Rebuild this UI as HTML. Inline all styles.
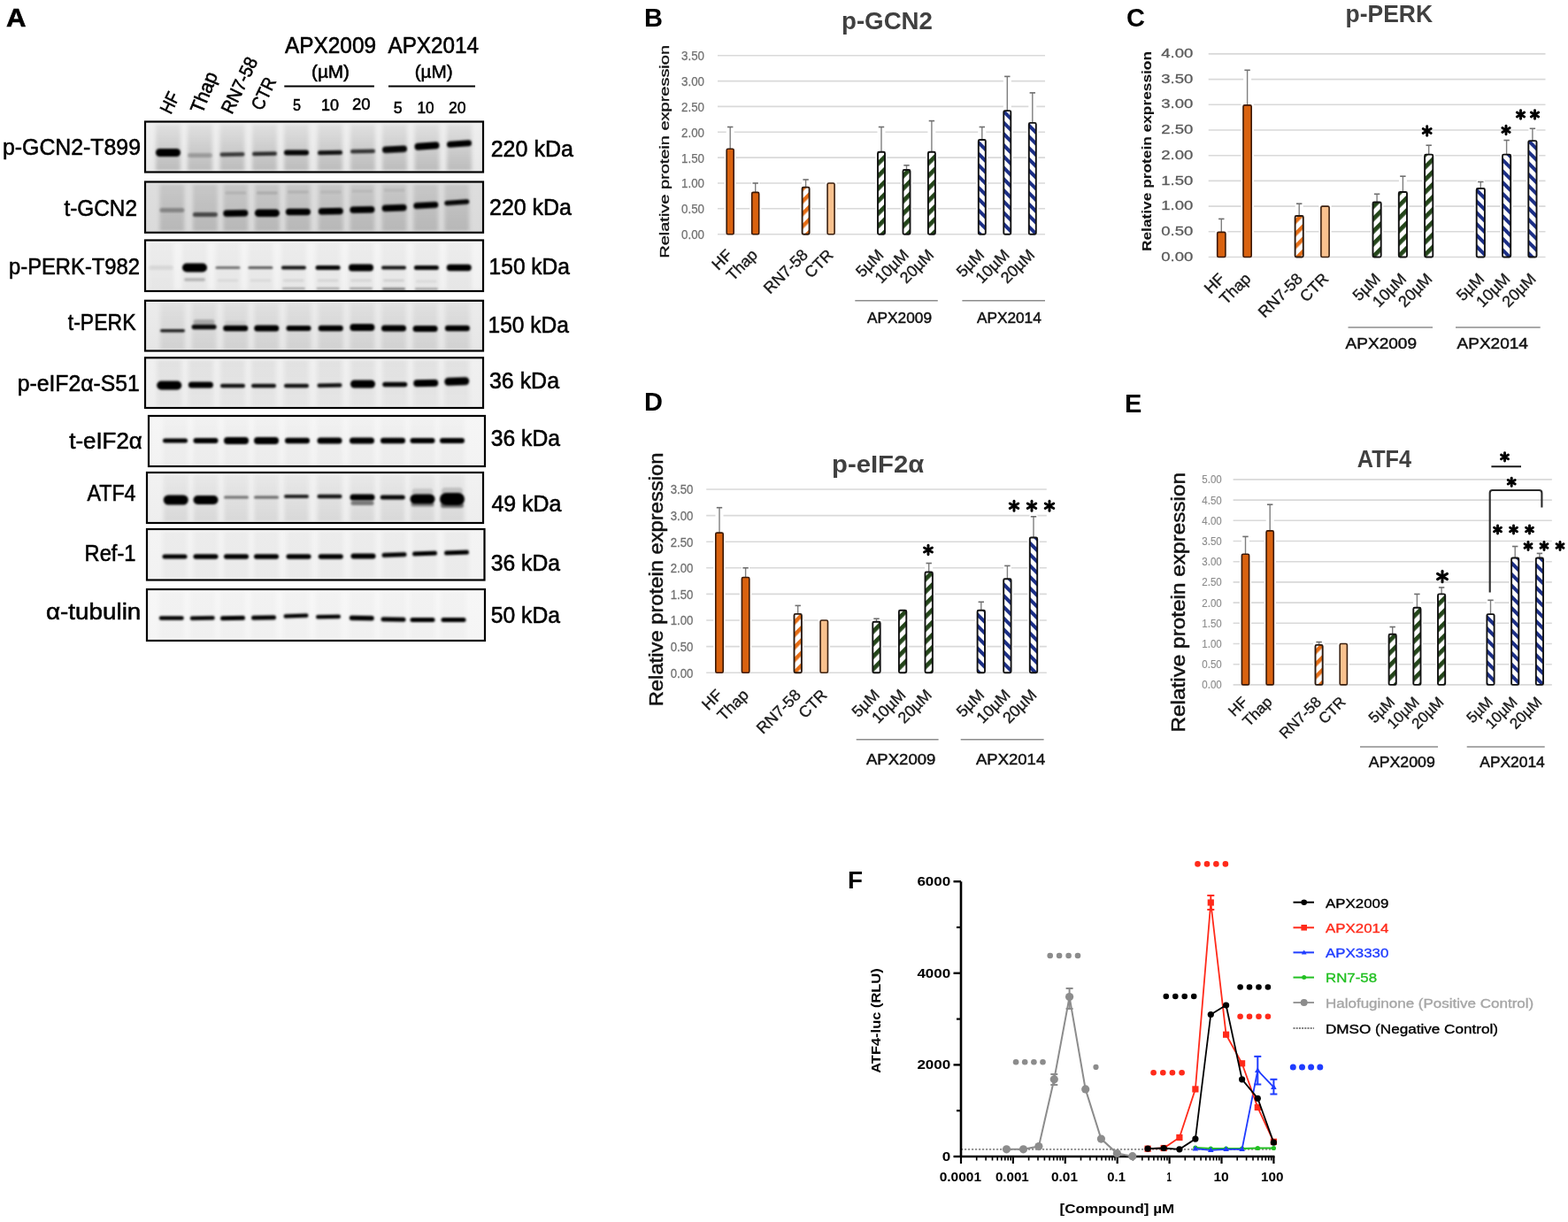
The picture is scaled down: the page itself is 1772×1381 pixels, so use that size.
<!DOCTYPE html>
<html><head><meta charset="utf-8"><title>Figure</title>
<style>html,body{margin:0;padding:0;background:#fff;width:1772px;height:1381px;overflow:hidden}svg{display:block} .pa text{stroke:#000;stroke-width:0.55px} .thk{stroke-width:0.5px}</style>
</head><body>
<svg width="1772" height="1381" viewBox="0 0 1772 1381" font-family="'Liberation Sans', sans-serif">
<defs>
<filter id="bb" x="-30%" y="-100%" width="160%" height="300%"><feGaussianBlur stdDeviation="1.1"/></filter>
<filter id="lb" x="-30%" y="-10%" width="160%" height="120%"><feGaussianBlur stdDeviation="2.2 1.5"/></filter>
<pattern id="hG" patternUnits="userSpaceOnUse" width="10" height="10" patternTransform="rotate(45)"><rect width="10" height="10" fill="#fff"/><rect width="4.8" height="10" fill="#24461a"/></pattern>
<pattern id="hB" patternUnits="userSpaceOnUse" width="9" height="9" patternTransform="rotate(-45)"><rect width="9" height="9" fill="#fff"/><rect width="4" height="9" fill="#1c2f86"/></pattern>
<pattern id="hO" patternUnits="userSpaceOnUse" width="10" height="10" patternTransform="rotate(45)"><rect width="10" height="10" fill="#fff"/><rect width="4.5" height="10" fill="#e56d15"/></pattern>
</defs>
<rect width="1772" height="1381" fill="#fff"/>
<g class="pa"><text x="7" y="29.5" font-family="'Liberation Sans', sans-serif" font-weight="bold" font-size="30" textLength="22.5" lengthAdjust="spacingAndGlyphs">A</text>
<text x="322" y="59.5" font-size="25" textLength="103" lengthAdjust="spacingAndGlyphs">APX2009</text>
<text x="438.5" y="59.5" font-size="25" textLength="102.5" lengthAdjust="spacingAndGlyphs">APX2014</text>
<text x="352" y="88" font-size="20" textLength="43" lengthAdjust="spacingAndGlyphs">(µM)</text>
<text x="468.7" y="88" font-size="20" textLength="43" lengthAdjust="spacingAndGlyphs">(µM)</text>
<line x1="321.3" y1="97.6" x2="422.9" y2="97.6" stroke="#000" stroke-width="2"/>
<line x1="439" y1="97.6" x2="537" y2="97.6" stroke="#000" stroke-width="2"/>
<text x="331" y="125" font-size="19" textLength="9.0" lengthAdjust="spacingAndGlyphs">5</text>
<text x="363" y="125" font-size="19" textLength="20.0" lengthAdjust="spacingAndGlyphs">10</text>
<text x="398" y="123.7" font-size="19" textLength="20.6" lengthAdjust="spacingAndGlyphs">20</text>
<text x="444.7" y="128" font-size="19" textLength="9.9" lengthAdjust="spacingAndGlyphs">5</text>
<text x="471.5" y="128" font-size="19" textLength="19.1" lengthAdjust="spacingAndGlyphs">10</text>
<text x="507" y="128" font-size="19" textLength="19.6" lengthAdjust="spacingAndGlyphs">20</text>
<text transform="translate(193,130) rotate(-64)" font-size="21" textLength="24" lengthAdjust="spacingAndGlyphs">HF</text>
<text transform="translate(228.5,129.5) rotate(-68)" font-size="22" textLength="48" lengthAdjust="spacingAndGlyphs">Thap</text>
<text transform="translate(262,130) rotate(-64)" font-size="21" textLength="68" lengthAdjust="spacingAndGlyphs">RN7-58</text>
<text transform="translate(296,126) rotate(-64)" font-size="21" textLength="38" lengthAdjust="spacingAndGlyphs">CTR</text>
<text x="3" y="175.4" font-size="25.5" textLength="156.0" lengthAdjust="spacingAndGlyphs">p-GCN2-T899</text>
<text x="72.5" y="244" font-size="25.5" textLength="82.5" lengthAdjust="spacingAndGlyphs">t-GCN2</text>
<text x="10" y="310" font-size="25.5" textLength="148.0" lengthAdjust="spacingAndGlyphs">p-PERK-T982</text>
<text x="76.8" y="373.4" font-size="25.5" textLength="76.7" lengthAdjust="spacingAndGlyphs">t-PERK</text>
<text x="19.7" y="441.5" font-size="25.5" textLength="138.2" lengthAdjust="spacingAndGlyphs">p-eIF2α-S51</text>
<text x="78.2" y="507.3" font-size="25.5" textLength="82.6" lengthAdjust="spacingAndGlyphs">t-eIF2α</text>
<text x="98.5" y="566" font-size="25.5" textLength="55.0" lengthAdjust="spacingAndGlyphs">ATF4</text>
<text x="95.6" y="633.5" font-size="25.5" textLength="57.9" lengthAdjust="spacingAndGlyphs">Ref-1</text>
<text x="52" y="700" font-size="25.5" textLength="107.3" lengthAdjust="spacingAndGlyphs">α-tubulin</text>
<text x="554.7" y="177.2" font-size="25" textLength="93.3" lengthAdjust="spacingAndGlyphs">220 kDa</text>
<text x="553" y="243.4" font-size="25" textLength="93.0" lengthAdjust="spacingAndGlyphs">220 kDa</text>
<text x="552.6" y="309.5" font-size="25" textLength="91.4" lengthAdjust="spacingAndGlyphs">150 kDa</text>
<text x="551.5" y="375.7" font-size="25" textLength="91.5" lengthAdjust="spacingAndGlyphs">150 kDa</text>
<text x="553" y="439.4" font-size="25" textLength="79.0" lengthAdjust="spacingAndGlyphs">36 kDa</text>
<text x="554.8" y="504" font-size="25" textLength="78.2" lengthAdjust="spacingAndGlyphs">36 kDa</text>
<text x="555.5" y="578" font-size="25" textLength="78.9" lengthAdjust="spacingAndGlyphs">49 kDa</text>
<text x="554.8" y="645" font-size="25" textLength="78.2" lengthAdjust="spacingAndGlyphs">36 kDa</text>
<text x="554.8" y="703.5" font-size="25" textLength="78.2" lengthAdjust="spacingAndGlyphs">50 kDa</text>
<linearGradient id="bg0" x1="0" y1="0" x2="0" y2="1"><stop offset="0" stop-color="#efefef"/><stop offset="1" stop-color="#e8e8e8"/></linearGradient>
<linearGradient id="lg0" x1="0" y1="0" x2="0" y2="1"><stop offset="0" stop-color="#000" stop-opacity="0.06"/><stop offset="1" stop-color="#000" stop-opacity="0.19"/></linearGradient>
<rect x="164" y="137.5" width="382" height="57.0" fill="url(#bg0)"/>
<rect x="176" y="140.5" width="28" height="52.0" fill="url(#lg0)" filter="url(#lb)"/>
<rect x="212" y="140.5" width="28" height="52.0" fill="url(#lg0)" filter="url(#lb)"/>
<rect x="248.5" y="140.5" width="28" height="52.0" fill="url(#lg0)" filter="url(#lb)"/>
<rect x="285" y="140.5" width="28" height="52.0" fill="url(#lg0)" filter="url(#lb)"/>
<rect x="321" y="140.5" width="28" height="52.0" fill="url(#lg0)" filter="url(#lb)"/>
<rect x="359" y="140.5" width="28" height="52.0" fill="url(#lg0)" filter="url(#lb)"/>
<rect x="396" y="140.5" width="28" height="52.0" fill="url(#lg0)" filter="url(#lb)"/>
<rect x="432" y="140.5" width="28" height="52.0" fill="url(#lg0)" filter="url(#lb)"/>
<rect x="468.5" y="140.5" width="28" height="52.0" fill="url(#lg0)" filter="url(#lb)"/>
<rect x="505" y="140.5" width="28" height="52.0" fill="url(#lg0)" filter="url(#lb)"/>
<rect x="176.0" y="168.0" width="28" height="9" rx="4.5" fill="#000" opacity="1" filter="url(#bb)"/>
<rect x="212.0" y="173.0" width="28" height="5" rx="2.5" fill="#000" opacity="0.22" filter="url(#bb)"/>
<rect x="248.5" y="172.25" width="28" height="4.5" rx="2.25" fill="#000" opacity="0.72" filter="url(#bb)" transform="rotate(-1 262.5 174.5)"/>
<rect x="285.0" y="171.5" width="28" height="4.5" rx="2.25" fill="#000" opacity="0.78" filter="url(#bb)" transform="rotate(-1 299 173.75)"/>
<rect x="321.0" y="169.5" width="28" height="6" rx="3.0" fill="#000" opacity="0.97" filter="url(#bb)"/>
<rect x="359.0" y="170.0" width="28" height="5" rx="2.5" fill="#000" opacity="0.9" filter="url(#bb)" transform="rotate(-1 373 172.5)"/>
<rect x="396.0" y="168.75" width="28" height="4.5" rx="2.25" fill="#000" opacity="0.75" filter="url(#bb)" transform="rotate(-1 410 171)"/>
<rect x="432.0" y="165.0" width="28" height="7.5" rx="3.75" fill="#000" opacity="0.97" filter="url(#bb)" transform="rotate(-3 446 168.75)"/>
<rect x="468.5" y="161.0" width="28" height="8" rx="4.0" fill="#000" opacity="1" filter="url(#bb)" transform="rotate(-4 482.5 165)"/>
<rect x="505.0" y="159.0" width="28" height="7" rx="3.5" fill="#000" opacity="1" filter="url(#bb)" transform="rotate(-4 519 162.5)"/>
<rect x="164" y="137.5" width="382" height="57.0" fill="none" stroke="#000" stroke-width="2.2"/>
<linearGradient id="bg1" x1="0" y1="0" x2="0" y2="1"><stop offset="0" stop-color="#dedede"/><stop offset="1" stop-color="#dadada"/></linearGradient>
<linearGradient id="lg1" x1="0" y1="0" x2="0" y2="1"><stop offset="0" stop-color="#000" stop-opacity="0.1"/><stop offset="1" stop-color="#000" stop-opacity="0.16"/></linearGradient>
<rect x="164" y="205.5" width="382" height="57.30000000000001" fill="url(#bg1)"/>
<rect x="180.4" y="208.5" width="28" height="52.30000000000001" fill="url(#lg1)" filter="url(#lb)"/>
<rect x="217.9" y="208.5" width="28" height="52.30000000000001" fill="url(#lg1)" filter="url(#lb)"/>
<rect x="252.3" y="208.5" width="28" height="52.30000000000001" fill="url(#lg1)" filter="url(#lb)"/>
<rect x="287.9" y="208.5" width="28" height="52.30000000000001" fill="url(#lg1)" filter="url(#lb)"/>
<rect x="322.9" y="208.5" width="28" height="52.30000000000001" fill="url(#lg1)" filter="url(#lb)"/>
<rect x="359.8" y="208.5" width="28" height="52.30000000000001" fill="url(#lg1)" filter="url(#lb)"/>
<rect x="395.4" y="208.5" width="28" height="52.30000000000001" fill="url(#lg1)" filter="url(#lb)"/>
<rect x="431.6" y="208.5" width="28" height="52.30000000000001" fill="url(#lg1)" filter="url(#lb)"/>
<rect x="467.3" y="208.5" width="28" height="52.30000000000001" fill="url(#lg1)" filter="url(#lb)"/>
<rect x="502.29999999999995" y="208.5" width="28" height="52.30000000000001" fill="url(#lg1)" filter="url(#lb)"/>
<rect x="180.4" y="235.0" width="28" height="5" rx="2.5" fill="#000" opacity="0.3" filter="url(#bb)"/>
<rect x="217.9" y="240.0" width="28" height="5" rx="2.5" fill="#000" opacity="0.62" filter="url(#bb)"/>
<rect x="252.3" y="237.25" width="28" height="7.5" rx="3.75" fill="#000" opacity="1" filter="url(#bb)" transform="rotate(-1 266.3 241)"/>
<rect x="287.9" y="236.5" width="28" height="8.5" rx="4.25" fill="#000" opacity="1" filter="url(#bb)"/>
<rect x="322.9" y="235.75" width="28" height="7.5" rx="3.75" fill="#000" opacity="1" filter="url(#bb)"/>
<rect x="359.8" y="235.0" width="28" height="7.5" rx="3.75" fill="#000" opacity="1" filter="url(#bb)" transform="rotate(-1 373.8 238.75)"/>
<rect x="395.4" y="233.25" width="28" height="7.5" rx="3.75" fill="#000" opacity="1" filter="url(#bb)" transform="rotate(-1 409.4 237)"/>
<rect x="431.6" y="231.25" width="28" height="7.5" rx="3.75" fill="#000" opacity="1" filter="url(#bb)" transform="rotate(-2 445.6 235)"/>
<rect x="467.3" y="228.5" width="28" height="7" rx="3.5" fill="#000" opacity="1" filter="url(#bb)" transform="rotate(-3 481.3 232)"/>
<rect x="502.29999999999995" y="226.0" width="28" height="5.5" rx="2.75" fill="#000" opacity="0.97" filter="url(#bb)" transform="rotate(-4 516.3 228.75)"/>
<rect x="254.3" y="216.5" width="24" height="3" rx="1.5" fill="#000" opacity="0.1" filter="url(#bb)"/>
<rect x="289.9" y="216.5" width="24" height="3" rx="1.5" fill="#000" opacity="0.14" filter="url(#bb)"/>
<rect x="324.9" y="215.5" width="24" height="3" rx="1.5" fill="#000" opacity="0.1" filter="url(#bb)"/>
<rect x="361.8" y="215.5" width="24" height="3" rx="1.5" fill="#000" opacity="0.08" filter="url(#bb)"/>
<rect x="397.4" y="214.5" width="24" height="3" rx="1.5" fill="#000" opacity="0.07" filter="url(#bb)"/>
<rect x="433.6" y="213.5" width="24" height="3" rx="1.5" fill="#000" opacity="0.07" filter="url(#bb)"/>
<rect x="164" y="205.5" width="382" height="57.30000000000001" fill="none" stroke="#000" stroke-width="2.2"/>
<linearGradient id="bg2" x1="0" y1="0" x2="0" y2="1"><stop offset="0" stop-color="#f5f5f5"/><stop offset="1" stop-color="#f1f1f1"/></linearGradient>
<linearGradient id="lg2" x1="0" y1="0" x2="0" y2="1"><stop offset="0" stop-color="#000" stop-opacity="0.03"/><stop offset="1" stop-color="#000" stop-opacity="0.05"/></linearGradient>
<rect x="164" y="271.5" width="382" height="57.5" fill="url(#bg2)"/>
<rect x="168" y="274.5" width="28" height="52.5" fill="url(#lg2)" filter="url(#lb)"/>
<rect x="206" y="274.5" width="28" height="52.5" fill="url(#lg2)" filter="url(#lb)"/>
<rect x="243.5" y="274.5" width="28" height="52.5" fill="url(#lg2)" filter="url(#lb)"/>
<rect x="280.4" y="274.5" width="28" height="52.5" fill="url(#lg2)" filter="url(#lb)"/>
<rect x="317.9" y="274.5" width="28" height="52.5" fill="url(#lg2)" filter="url(#lb)"/>
<rect x="356.6" y="274.5" width="28" height="52.5" fill="url(#lg2)" filter="url(#lb)"/>
<rect x="394" y="274.5" width="28" height="52.5" fill="url(#lg2)" filter="url(#lb)"/>
<rect x="431" y="274.5" width="28" height="52.5" fill="url(#lg2)" filter="url(#lb)"/>
<rect x="467.9" y="274.5" width="28" height="52.5" fill="url(#lg2)" filter="url(#lb)"/>
<rect x="504.75" y="274.5" width="28" height="52.5" fill="url(#lg2)" filter="url(#lb)"/>
<rect x="168.0" y="300.0" width="28" height="5" rx="2.5" fill="#000" opacity="0.07" filter="url(#bb)"/>
<rect x="206.0" y="297.5" width="28" height="10" rx="5.0" fill="#000" opacity="1" filter="url(#bb)"/>
<rect x="243.5" y="301.0" width="28" height="3" rx="1.5" fill="#000" opacity="0.5" filter="url(#bb)"/>
<rect x="280.4" y="301.0" width="28" height="3" rx="1.5" fill="#000" opacity="0.6" filter="url(#bb)"/>
<rect x="317.9" y="300.5" width="28" height="4" rx="2.0" fill="#000" opacity="0.92" filter="url(#bb)"/>
<rect x="356.6" y="300.0" width="28" height="5" rx="2.5" fill="#000" opacity="0.97" filter="url(#bb)"/>
<rect x="394.0" y="298.5" width="28" height="8" rx="4.0" fill="#000" opacity="1" filter="url(#bb)"/>
<rect x="431.0" y="300.5" width="28" height="4" rx="2.0" fill="#000" opacity="0.92" filter="url(#bb)"/>
<rect x="467.9" y="300.0" width="28" height="5" rx="2.5" fill="#000" opacity="0.97" filter="url(#bb)"/>
<rect x="504.75" y="298.75" width="28" height="7.5" rx="3.75" fill="#000" opacity="1" filter="url(#bb)"/>
<rect x="208.0" y="314.25" width="24" height="3.5" rx="1.75" fill="#000" opacity="0.22" filter="url(#bb)"/>
<rect x="245.5" y="315.75" width="24" height="2.5" rx="1.25" fill="#000" opacity="0.06" filter="url(#bb)"/>
<rect x="282.4" y="315.75" width="24" height="2.5" rx="1.25" fill="#000" opacity="0.06" filter="url(#bb)"/>
<rect x="319.9" y="315.75" width="24" height="2.5" rx="1.25" fill="#000" opacity="0.08" filter="url(#bb)"/>
<rect x="358.6" y="315.75" width="24" height="2.5" rx="1.25" fill="#000" opacity="0.08" filter="url(#bb)"/>
<rect x="396.0" y="315.75" width="24" height="2.5" rx="1.25" fill="#000" opacity="0.08" filter="url(#bb)"/>
<rect x="433.0" y="315.75" width="24" height="2.5" rx="1.25" fill="#000" opacity="0.1" filter="url(#bb)"/>
<rect x="469.9" y="316.75" width="24" height="2.5" rx="1.25" fill="#000" opacity="0.06" filter="url(#bb)"/>
<rect x="318.9" y="325.0" width="26" height="2" rx="1.0" fill="#000" opacity="0.3" filter="url(#bb)"/>
<rect x="357.6" y="325.0" width="26" height="2" rx="1.0" fill="#000" opacity="0.3" filter="url(#bb)"/>
<rect x="395.0" y="325.0" width="26" height="2" rx="1.0" fill="#000" opacity="0.35" filter="url(#bb)"/>
<rect x="432.0" y="325.25" width="26" height="2.5" rx="1.25" fill="#000" opacity="0.5" filter="url(#bb)"/>
<rect x="468.9" y="325.5" width="26" height="2" rx="1.0" fill="#000" opacity="0.35" filter="url(#bb)"/>
<rect x="164" y="271.5" width="382" height="57.5" fill="none" stroke="#000" stroke-width="2.2"/>
<linearGradient id="bg3" x1="0" y1="0" x2="0" y2="1"><stop offset="0" stop-color="#ececec"/><stop offset="1" stop-color="#e6e6e6"/></linearGradient>
<linearGradient id="lg3" x1="0" y1="0" x2="0" y2="1"><stop offset="0" stop-color="#000" stop-opacity="0.05"/><stop offset="1" stop-color="#000" stop-opacity="0.09"/></linearGradient>
<rect x="164" y="339.8" width="382" height="56.69999999999999" fill="url(#bg3)"/>
<rect x="181" y="342.8" width="28" height="51.69999999999999" fill="url(#lg3)" filter="url(#lb)"/>
<rect x="216.6" y="342.8" width="28" height="51.69999999999999" fill="url(#lg3)" filter="url(#lb)"/>
<rect x="252.25" y="342.8" width="28" height="51.69999999999999" fill="url(#lg3)" filter="url(#lb)"/>
<rect x="287.25" y="342.8" width="28" height="51.69999999999999" fill="url(#lg3)" filter="url(#lb)"/>
<rect x="323.5" y="342.8" width="28" height="51.69999999999999" fill="url(#lg3)" filter="url(#lb)"/>
<rect x="359.75" y="342.8" width="28" height="51.69999999999999" fill="url(#lg3)" filter="url(#lb)"/>
<rect x="395.4" y="342.8" width="28" height="51.69999999999999" fill="url(#lg3)" filter="url(#lb)"/>
<rect x="431" y="342.8" width="28" height="51.69999999999999" fill="url(#lg3)" filter="url(#lb)"/>
<rect x="466.6" y="342.8" width="28" height="51.69999999999999" fill="url(#lg3)" filter="url(#lb)"/>
<rect x="502.9" y="342.8" width="28" height="51.69999999999999" fill="url(#lg3)" filter="url(#lb)"/>
<rect x="181.0" y="372.0" width="28" height="3.5" rx="1.75" fill="#000" opacity="0.85" filter="url(#bb)"/>
<rect x="216.6" y="366.75" width="28" height="5.5" rx="2.75" fill="#000" opacity="0.95" filter="url(#bb)"/>
<rect x="252.25" y="367.75" width="28" height="6.5" rx="3.25" fill="#000" opacity="1" filter="url(#bb)"/>
<rect x="287.25" y="367.5" width="28" height="7" rx="3.5" fill="#000" opacity="1" filter="url(#bb)"/>
<rect x="323.5" y="368.0" width="28" height="6" rx="3.0" fill="#000" opacity="1" filter="url(#bb)"/>
<rect x="359.75" y="367.75" width="28" height="6.5" rx="3.25" fill="#000" opacity="1" filter="url(#bb)"/>
<rect x="395.4" y="366.0" width="28" height="8" rx="4.0" fill="#000" opacity="1" filter="url(#bb)"/>
<rect x="431.0" y="367.5" width="28" height="7" rx="3.5" fill="#000" opacity="1" filter="url(#bb)"/>
<rect x="466.6" y="368.0" width="28" height="7" rx="3.5" fill="#000" opacity="1" filter="url(#bb)"/>
<rect x="502.9" y="367.75" width="28" height="6.5" rx="3.25" fill="#000" opacity="1" filter="url(#bb)"/>
<rect x="218.6" y="361.0" width="24" height="6" rx="3.0" fill="#000" opacity="0.22" filter="url(#bb)"/>
<rect x="254.25" y="362.5" width="24" height="5" rx="2.5" fill="#000" opacity="0.06" filter="url(#bb)"/>
<rect x="164" y="339.8" width="382" height="56.69999999999999" fill="none" stroke="#000" stroke-width="2.2"/>
<linearGradient id="bg4" x1="0" y1="0" x2="0" y2="1"><stop offset="0" stop-color="#f0f0f0"/><stop offset="1" stop-color="#eeeeee"/></linearGradient>
<linearGradient id="lg4" x1="0" y1="0" x2="0" y2="1"><stop offset="0" stop-color="#000" stop-opacity="0.06"/><stop offset="1" stop-color="#000" stop-opacity="0.04"/></linearGradient>
<rect x="164" y="404.3" width="382" height="56.69999999999999" fill="url(#bg4)"/>
<rect x="177.25" y="407.3" width="28" height="51.69999999999999" fill="url(#lg4)" filter="url(#lb)"/>
<rect x="212.9" y="407.3" width="28" height="51.69999999999999" fill="url(#lg4)" filter="url(#lb)"/>
<rect x="249" y="407.3" width="28" height="51.69999999999999" fill="url(#lg4)" filter="url(#lb)"/>
<rect x="284" y="407.3" width="28" height="51.69999999999999" fill="url(#lg4)" filter="url(#lb)"/>
<rect x="321" y="407.3" width="28" height="51.69999999999999" fill="url(#lg4)" filter="url(#lb)"/>
<rect x="358.5" y="407.3" width="28" height="51.69999999999999" fill="url(#lg4)" filter="url(#lb)"/>
<rect x="396" y="407.3" width="28" height="51.69999999999999" fill="url(#lg4)" filter="url(#lb)"/>
<rect x="432.25" y="407.3" width="28" height="51.69999999999999" fill="url(#lg4)" filter="url(#lb)"/>
<rect x="467.25" y="407.3" width="28" height="51.69999999999999" fill="url(#lg4)" filter="url(#lb)"/>
<rect x="502.25" y="407.3" width="28" height="51.69999999999999" fill="url(#lg4)" filter="url(#lb)"/>
<rect x="177.25" y="430.5" width="28" height="10" rx="5.0" fill="#000" opacity="1" filter="url(#bb)"/>
<rect x="212.9" y="431.5" width="28" height="7" rx="3.5" fill="#000" opacity="1" filter="url(#bb)"/>
<rect x="249.0" y="433.75" width="28" height="4.5" rx="2.25" fill="#000" opacity="0.92" filter="url(#bb)"/>
<rect x="284.0" y="433.75" width="28" height="4.5" rx="2.25" fill="#000" opacity="0.92" filter="url(#bb)"/>
<rect x="321.0" y="433.75" width="28" height="4.5" rx="2.25" fill="#000" opacity="0.92" filter="url(#bb)"/>
<rect x="358.5" y="433.25" width="28" height="4.5" rx="2.25" fill="#000" opacity="0.94" filter="url(#bb)" transform="rotate(-1 372.5 435.5)"/>
<rect x="396.0" y="429.5" width="28" height="9" rx="4.5" fill="#000" opacity="1" filter="url(#bb)"/>
<rect x="432.25" y="431.75" width="28" height="5.5" rx="2.75" fill="#000" opacity="0.97" filter="url(#bb)"/>
<rect x="467.25" y="429.0" width="28" height="8" rx="4.0" fill="#000" opacity="1" filter="url(#bb)" transform="rotate(-1 481.25 433)"/>
<rect x="502.25" y="426.5" width="28" height="9" rx="4.5" fill="#000" opacity="1" filter="url(#bb)" transform="rotate(-2 516.25 431)"/>
<rect x="164" y="404.3" width="382" height="56.69999999999999" fill="none" stroke="#000" stroke-width="2.2"/>
<linearGradient id="bg5" x1="0" y1="0" x2="0" y2="1"><stop offset="0" stop-color="#f6f6f6"/><stop offset="1" stop-color="#f3f3f3"/></linearGradient>
<linearGradient id="lg5" x1="0" y1="0" x2="0" y2="1"><stop offset="0" stop-color="#000" stop-opacity="0.02"/><stop offset="1" stop-color="#000" stop-opacity="0.03"/></linearGradient>
<rect x="168" y="470" width="380" height="57" fill="url(#bg5)"/>
<rect x="184" y="473" width="28" height="52" fill="url(#lg5)" filter="url(#lb)"/>
<rect x="218.5" y="473" width="28" height="52" fill="url(#lg5)" filter="url(#lb)"/>
<rect x="253" y="473" width="28" height="52" fill="url(#lg5)" filter="url(#lb)"/>
<rect x="287" y="473" width="28" height="52" fill="url(#lg5)" filter="url(#lb)"/>
<rect x="322" y="473" width="28" height="52" fill="url(#lg5)" filter="url(#lb)"/>
<rect x="358.5" y="473" width="28" height="52" fill="url(#lg5)" filter="url(#lb)"/>
<rect x="395" y="473" width="28" height="52" fill="url(#lg5)" filter="url(#lb)"/>
<rect x="430" y="473" width="28" height="52" fill="url(#lg5)" filter="url(#lb)"/>
<rect x="463.5" y="473" width="28" height="52" fill="url(#lg5)" filter="url(#lb)"/>
<rect x="497" y="473" width="28" height="52" fill="url(#lg5)" filter="url(#lb)"/>
<rect x="184.0" y="495.5" width="28" height="5" rx="2.5" fill="#000" opacity="1" filter="url(#bb)"/>
<rect x="218.5" y="495.0" width="28" height="6" rx="3.0" fill="#000" opacity="1" filter="url(#bb)"/>
<rect x="253.0" y="494.0" width="28" height="8" rx="4.0" fill="#000" opacity="1" filter="url(#bb)"/>
<rect x="287.0" y="494.0" width="28" height="8" rx="4.0" fill="#000" opacity="1" filter="url(#bb)"/>
<rect x="322.0" y="494.75" width="28" height="6.5" rx="3.25" fill="#000" opacity="1" filter="url(#bb)"/>
<rect x="358.5" y="494.5" width="28" height="7" rx="3.5" fill="#000" opacity="1" filter="url(#bb)"/>
<rect x="395.0" y="494.5" width="28" height="7" rx="3.5" fill="#000" opacity="1" filter="url(#bb)"/>
<rect x="430.0" y="494.75" width="28" height="6.5" rx="3.25" fill="#000" opacity="1" filter="url(#bb)"/>
<rect x="463.5" y="495.0" width="28" height="6" rx="3.0" fill="#000" opacity="1" filter="url(#bb)"/>
<rect x="497.0" y="495.0" width="28" height="6" rx="3.0" fill="#000" opacity="1" filter="url(#bb)"/>
<rect x="168" y="470" width="380" height="57" fill="none" stroke="#000" stroke-width="2.2"/>
<linearGradient id="bg6" x1="0" y1="0" x2="0" y2="1"><stop offset="0" stop-color="#f2f2f2"/><stop offset="1" stop-color="#eeeeee"/></linearGradient>
<linearGradient id="lg6" x1="0" y1="0" x2="0" y2="1"><stop offset="0" stop-color="#000" stop-opacity="0.04"/><stop offset="1" stop-color="#000" stop-opacity="0.09"/></linearGradient>
<rect x="166" y="534" width="380" height="57" fill="url(#bg6)"/>
<rect x="184.75" y="537" width="28" height="52" fill="url(#lg6)" filter="url(#lb)"/>
<rect x="218.5" y="537" width="28" height="52" fill="url(#lg6)" filter="url(#lb)"/>
<rect x="253" y="537" width="28" height="52" fill="url(#lg6)" filter="url(#lb)"/>
<rect x="287" y="537" width="28" height="52" fill="url(#lg6)" filter="url(#lb)"/>
<rect x="321" y="537" width="28" height="52" fill="url(#lg6)" filter="url(#lb)"/>
<rect x="358.5" y="537" width="28" height="52" fill="url(#lg6)" filter="url(#lb)"/>
<rect x="395.5" y="537" width="28" height="52" fill="url(#lg6)" filter="url(#lb)"/>
<rect x="429.75" y="537" width="28" height="52" fill="url(#lg6)" filter="url(#lb)"/>
<rect x="463.5" y="537" width="28" height="52" fill="url(#lg6)" filter="url(#lb)"/>
<rect x="497" y="537" width="28" height="52" fill="url(#lg6)" filter="url(#lb)"/>
<rect x="184.75" y="559.5" width="28" height="11" rx="5.5" fill="#000" opacity="1" filter="url(#bb)"/>
<rect x="218.5" y="560.0" width="28" height="10" rx="5.0" fill="#000" opacity="1" filter="url(#bb)"/>
<rect x="253.0" y="560.5" width="28" height="3" rx="1.5" fill="#000" opacity="0.5" filter="url(#bb)"/>
<rect x="287.0" y="560.5" width="28" height="3" rx="1.5" fill="#000" opacity="0.55" filter="url(#bb)"/>
<rect x="321.0" y="559.0" width="28" height="4" rx="2.0" fill="#000" opacity="0.85" filter="url(#bb)"/>
<rect x="358.5" y="558.75" width="28" height="4.5" rx="2.25" fill="#000" opacity="0.9" filter="url(#bb)"/>
<rect x="395.5" y="558.5" width="28" height="7" rx="3.5" fill="#000" opacity="1" filter="url(#bb)"/>
<rect x="429.75" y="559.5" width="28" height="5" rx="2.5" fill="#000" opacity="0.97" filter="url(#bb)"/>
<rect x="463.5" y="558.5" width="28" height="11" rx="5.5" fill="#000" opacity="1" filter="url(#bb)"/>
<rect x="497.0" y="557.0" width="28" height="14" rx="7.0" fill="#000" opacity="1" filter="url(#bb)"/>
<rect x="396.5" y="566.0" width="26" height="5" rx="2.5" fill="#000" opacity="0.45" filter="url(#bb)"/>
<rect x="498.0" y="568.0" width="26" height="6" rx="3.0" fill="#000" opacity="0.5" filter="url(#bb)"/>
<rect x="464.5" y="567.5" width="26" height="5" rx="2.5" fill="#000" opacity="0.4" filter="url(#bb)"/>
<rect x="465.5" y="552.0" width="24" height="8" rx="4.0" fill="#000" opacity="0.12" filter="url(#bb)"/>
<rect x="499.0" y="551.0" width="24" height="8" rx="4.0" fill="#000" opacity="0.15" filter="url(#bb)"/>
<rect x="166" y="534" width="380" height="57" fill="none" stroke="#000" stroke-width="2.2"/>
<linearGradient id="bg7" x1="0" y1="0" x2="0" y2="1"><stop offset="0" stop-color="#f4f4f4"/><stop offset="1" stop-color="#f2f2f2"/></linearGradient>
<linearGradient id="lg7" x1="0" y1="0" x2="0" y2="1"><stop offset="0" stop-color="#000" stop-opacity="0.03"/><stop offset="1" stop-color="#000" stop-opacity="0.03"/></linearGradient>
<rect x="166" y="598" width="381.5" height="57.5" fill="url(#bg7)"/>
<rect x="183.5" y="601" width="28" height="52.5" fill="url(#lg7)" filter="url(#lb)"/>
<rect x="218.5" y="601" width="28" height="52.5" fill="url(#lg7)" filter="url(#lb)"/>
<rect x="253" y="601" width="28" height="52.5" fill="url(#lg7)" filter="url(#lb)"/>
<rect x="287" y="601" width="28" height="52.5" fill="url(#lg7)" filter="url(#lb)"/>
<rect x="323.5" y="601" width="28" height="52.5" fill="url(#lg7)" filter="url(#lb)"/>
<rect x="359.75" y="601" width="28" height="52.5" fill="url(#lg7)" filter="url(#lb)"/>
<rect x="396.5" y="601" width="28" height="52.5" fill="url(#lg7)" filter="url(#lb)"/>
<rect x="431.5" y="601" width="28" height="52.5" fill="url(#lg7)" filter="url(#lb)"/>
<rect x="466" y="601" width="28" height="52.5" fill="url(#lg7)" filter="url(#lb)"/>
<rect x="502" y="601" width="28" height="52.5" fill="url(#lg7)" filter="url(#lb)"/>
<rect x="183.5" y="626.5" width="28" height="5" rx="2.5" fill="#000" opacity="1" filter="url(#bb)"/>
<rect x="218.5" y="626.25" width="28" height="5.5" rx="2.75" fill="#000" opacity="1" filter="url(#bb)"/>
<rect x="253.0" y="626.25" width="28" height="5.5" rx="2.75" fill="#000" opacity="1" filter="url(#bb)"/>
<rect x="287.0" y="626.25" width="28" height="5.5" rx="2.75" fill="#000" opacity="1" filter="url(#bb)"/>
<rect x="323.5" y="626.25" width="28" height="5.5" rx="2.75" fill="#000" opacity="1" filter="url(#bb)"/>
<rect x="359.75" y="626.25" width="28" height="5.5" rx="2.75" fill="#000" opacity="1" filter="url(#bb)"/>
<rect x="396.5" y="625.5" width="28" height="6" rx="3.0" fill="#000" opacity="1" filter="url(#bb)"/>
<rect x="431.5" y="624.5" width="28" height="5" rx="2.5" fill="#000" opacity="1" filter="url(#bb)" transform="rotate(-2 445.5 627)"/>
<rect x="466.0" y="623.0" width="28" height="5" rx="2.5" fill="#000" opacity="1" filter="url(#bb)" transform="rotate(-2 480 625.5)"/>
<rect x="502.0" y="622.0" width="28" height="5" rx="2.5" fill="#000" opacity="1" filter="url(#bb)" transform="rotate(-2 516 624.5)"/>
<rect x="166" y="598" width="381.5" height="57.5" fill="none" stroke="#000" stroke-width="2.2"/>
<linearGradient id="bg8" x1="0" y1="0" x2="0" y2="1"><stop offset="0" stop-color="#f7f7f7"/><stop offset="1" stop-color="#f5f5f5"/></linearGradient>
<linearGradient id="lg8" x1="0" y1="0" x2="0" y2="1"><stop offset="0" stop-color="#000" stop-opacity="0.02"/><stop offset="1" stop-color="#000" stop-opacity="0.02"/></linearGradient>
<rect x="166" y="666" width="382" height="58" fill="url(#bg8)"/>
<rect x="179.75" y="669" width="28" height="53" fill="url(#lg8)" filter="url(#lb)"/>
<rect x="214.75" y="669" width="28" height="53" fill="url(#lg8)" filter="url(#lb)"/>
<rect x="249" y="669" width="28" height="53" fill="url(#lg8)" filter="url(#lb)"/>
<rect x="284" y="669" width="28" height="53" fill="url(#lg8)" filter="url(#lb)"/>
<rect x="320.5" y="669" width="28" height="53" fill="url(#lg8)" filter="url(#lb)"/>
<rect x="357" y="669" width="28" height="53" fill="url(#lg8)" filter="url(#lb)"/>
<rect x="394.75" y="669" width="28" height="53" fill="url(#lg8)" filter="url(#lb)"/>
<rect x="430.5" y="669" width="28" height="53" fill="url(#lg8)" filter="url(#lb)"/>
<rect x="463.5" y="669" width="28" height="53" fill="url(#lg8)" filter="url(#lb)"/>
<rect x="498.5" y="669" width="28" height="53" fill="url(#lg8)" filter="url(#lb)"/>
<rect x="179.75" y="696.25" width="28" height="4.5" rx="2.25" fill="#000" opacity="1" filter="url(#bb)"/>
<rect x="214.75" y="696.25" width="28" height="4.5" rx="2.25" fill="#000" opacity="1" filter="url(#bb)" transform="rotate(-1 228.75 698.5)"/>
<rect x="249.0" y="696.0" width="28" height="5" rx="2.5" fill="#000" opacity="1" filter="url(#bb)" transform="rotate(-1 263 698.5)"/>
<rect x="284.0" y="695.5" width="28" height="5" rx="2.5" fill="#000" opacity="1" filter="url(#bb)" transform="rotate(-1 298 698)"/>
<rect x="320.5" y="693.75" width="28" height="4.5" rx="2.25" fill="#000" opacity="1" filter="url(#bb)" transform="rotate(-2 334.5 696)"/>
<rect x="357.0" y="694.75" width="28" height="4.5" rx="2.25" fill="#000" opacity="1" filter="url(#bb)" transform="rotate(-1 371 697)"/>
<rect x="394.75" y="695.75" width="28" height="5.5" rx="2.75" fill="#000" opacity="1" filter="url(#bb)" transform="rotate(1 408.75 698.5)"/>
<rect x="430.5" y="697.5" width="28" height="5" rx="2.5" fill="#000" opacity="1" filter="url(#bb)" transform="rotate(1 444.5 700)"/>
<rect x="463.5" y="698.0" width="28" height="5" rx="2.5" fill="#000" opacity="1" filter="url(#bb)"/>
<rect x="498.5" y="698.0" width="28" height="5" rx="2.5" fill="#000" opacity="1" filter="url(#bb)"/>
<rect x="166" y="666" width="382" height="58" fill="none" stroke="#000" stroke-width="2.2"/></g>
<line x1="811" y1="264.7" x2="1181" y2="264.7" stroke="#d9d9d9" stroke-width="1.6"/>
<text x="796" y="270.1" text-anchor="end" font-size="15" fill="#707070" stroke="#707070" stroke-width="0.25" textLength="26" lengthAdjust="spacingAndGlyphs">0.00</text>
<line x1="811" y1="235.8" x2="1181" y2="235.8" stroke="#d9d9d9" stroke-width="1.6"/>
<text x="796" y="241.2" text-anchor="end" font-size="15" fill="#707070" stroke="#707070" stroke-width="0.25" textLength="26" lengthAdjust="spacingAndGlyphs">0.50</text>
<line x1="811" y1="207.0" x2="1181" y2="207.0" stroke="#d9d9d9" stroke-width="1.6"/>
<text x="796" y="212.4" text-anchor="end" font-size="15" fill="#707070" stroke="#707070" stroke-width="0.25" textLength="26" lengthAdjust="spacingAndGlyphs">1.00</text>
<line x1="811" y1="178.1" x2="1181" y2="178.1" stroke="#d9d9d9" stroke-width="1.6"/>
<text x="796" y="183.5" text-anchor="end" font-size="15" fill="#707070" stroke="#707070" stroke-width="0.25" textLength="26" lengthAdjust="spacingAndGlyphs">1.50</text>
<line x1="811" y1="149.3" x2="1181" y2="149.3" stroke="#d9d9d9" stroke-width="1.6"/>
<text x="796" y="154.7" text-anchor="end" font-size="15" fill="#707070" stroke="#707070" stroke-width="0.25" textLength="26" lengthAdjust="spacingAndGlyphs">2.00</text>
<line x1="811" y1="120.4" x2="1181" y2="120.4" stroke="#d9d9d9" stroke-width="1.6"/>
<text x="796" y="125.8" text-anchor="end" font-size="15" fill="#707070" stroke="#707070" stroke-width="0.25" textLength="26" lengthAdjust="spacingAndGlyphs">2.50</text>
<line x1="811" y1="91.6" x2="1181" y2="91.6" stroke="#d9d9d9" stroke-width="1.6"/>
<text x="796" y="97.0" text-anchor="end" font-size="15" fill="#707070" stroke="#707070" stroke-width="0.25" textLength="26" lengthAdjust="spacingAndGlyphs">3.00</text>
<line x1="811" y1="62.7" x2="1181" y2="62.7" stroke="#d9d9d9" stroke-width="1.6"/>
<text x="796" y="68.1" text-anchor="end" font-size="15" fill="#707070" stroke="#707070" stroke-width="0.25" textLength="26" lengthAdjust="spacingAndGlyphs">3.50</text>
<rect x="818.7" y="166.3" width="13.0" height="97.4" fill="#fff"/>
<rect x="820.7" y="141.5" width="9" height="26.8" fill="#fff"/>
<line x1="825.2" y1="143.5" x2="825.2" y2="168.3" stroke="#7f7f7f" stroke-width="1.4"/>
<line x1="822.0" y1="143.5" x2="828.4" y2="143.5" stroke="#6f6f6f" stroke-width="1.6"/>
<rect x="821.2" y="168.3" width="8.0" height="96.4" rx="1.5" fill="#d9620f" stroke="#3b1804" stroke-width="1.6"/>
<text transform="translate(828.7,289.2) rotate(-45)" text-anchor="end" font-size="18" fill="#1a1a1a" stroke="#1a1a1a" stroke-width="0.35">HF</text>
<rect x="847.2" y="215.4" width="13.0" height="48.3" fill="#fff"/>
<rect x="849.2" y="205.0" width="9" height="12.4" fill="#fff"/>
<line x1="853.7" y1="207.0" x2="853.7" y2="217.4" stroke="#7f7f7f" stroke-width="1.4"/>
<line x1="850.5" y1="207.0" x2="856.9" y2="207.0" stroke="#6f6f6f" stroke-width="1.6"/>
<rect x="849.7" y="217.4" width="8.0" height="47.3" rx="1.5" fill="#d9620f" stroke="#3b1804" stroke-width="1.6"/>
<text transform="translate(857.2,289.2) rotate(-45)" text-anchor="end" font-size="18" fill="#1a1a1a" stroke="#1a1a1a" stroke-width="0.35">Thap</text>
<rect x="904.1" y="209.6" width="13.0" height="54.1" fill="#fff"/>
<rect x="906.1" y="201.0" width="9" height="10.7" fill="#fff"/>
<line x1="910.6" y1="203.0" x2="910.6" y2="211.6" stroke="#7f7f7f" stroke-width="1.4"/>
<line x1="907.4" y1="203.0" x2="913.8" y2="203.0" stroke="#6f6f6f" stroke-width="1.6"/>
<rect x="906.6" y="211.6" width="8.0" height="53.1" rx="1.5" fill="url(#hO)" stroke="#2a1a10" stroke-width="1.9"/>
<text transform="translate(914.1,289.2) rotate(-45)" text-anchor="end" font-size="18" fill="#1a1a1a" stroke="#1a1a1a" stroke-width="0.35">RN7-58</text>
<rect x="932.6" y="205.0" width="13.0" height="58.7" fill="#fff"/>
<rect x="935.1" y="207.0" width="8.0" height="57.7" rx="1.5" fill="#f9c18e" stroke="#3b2010" stroke-width="1.6"/>
<text transform="translate(942.6,289.2) rotate(-45)" text-anchor="end" font-size="18" fill="#1a1a1a" stroke="#1a1a1a" stroke-width="0.35">CTR</text>
<rect x="989.5" y="169.8" width="13.0" height="93.9" fill="#fff"/>
<rect x="991.5" y="141.5" width="9" height="30.3" fill="#fff"/>
<line x1="996.0" y1="143.5" x2="996.0" y2="171.8" stroke="#7f7f7f" stroke-width="1.4"/>
<line x1="992.8" y1="143.5" x2="999.2" y2="143.5" stroke="#6f6f6f" stroke-width="1.6"/>
<rect x="992.0" y="171.8" width="8.0" height="92.9" rx="1.5" fill="url(#hG)" stroke="#111" stroke-width="1.9"/>
<text transform="translate(999.5,289.2) rotate(-45)" text-anchor="end" font-size="18" fill="#1a1a1a" stroke="#1a1a1a" stroke-width="0.35">5µM</text>
<rect x="1018.0" y="190.0" width="13.0" height="73.7" fill="#fff"/>
<rect x="1020.0" y="184.8" width="9" height="7.2" fill="#fff"/>
<line x1="1024.5" y1="186.8" x2="1024.5" y2="192.0" stroke="#7f7f7f" stroke-width="1.4"/>
<line x1="1021.3" y1="186.8" x2="1027.7" y2="186.8" stroke="#6f6f6f" stroke-width="1.6"/>
<rect x="1020.5" y="192.0" width="8.0" height="72.7" rx="1.5" fill="url(#hG)" stroke="#111" stroke-width="1.9"/>
<text transform="translate(1028.0,289.2) rotate(-45)" text-anchor="end" font-size="18" fill="#1a1a1a" stroke="#1a1a1a" stroke-width="0.35">10µM</text>
<rect x="1046.4" y="169.8" width="13.0" height="93.9" fill="#fff"/>
<rect x="1048.4" y="134.6" width="9" height="37.2" fill="#fff"/>
<line x1="1052.9" y1="136.6" x2="1052.9" y2="171.8" stroke="#7f7f7f" stroke-width="1.4"/>
<line x1="1049.7" y1="136.6" x2="1056.1" y2="136.6" stroke="#6f6f6f" stroke-width="1.6"/>
<rect x="1048.9" y="171.8" width="8.0" height="92.9" rx="1.5" fill="url(#hG)" stroke="#111" stroke-width="1.9"/>
<text transform="translate(1056.4,289.2) rotate(-45)" text-anchor="end" font-size="18" fill="#1a1a1a" stroke="#1a1a1a" stroke-width="0.35">20µM</text>
<rect x="1103.3" y="156.0" width="13.0" height="107.7" fill="#fff"/>
<rect x="1105.3" y="141.5" width="9" height="16.4" fill="#fff"/>
<line x1="1109.8" y1="143.5" x2="1109.8" y2="158.0" stroke="#7f7f7f" stroke-width="1.4"/>
<line x1="1106.6" y1="143.5" x2="1113.0" y2="143.5" stroke="#6f6f6f" stroke-width="1.6"/>
<rect x="1105.8" y="158.0" width="8.0" height="106.7" rx="1.5" fill="url(#hB)" stroke="#111" stroke-width="1.9"/>
<text transform="translate(1113.3,289.2) rotate(-45)" text-anchor="end" font-size="18" fill="#1a1a1a" stroke="#1a1a1a" stroke-width="0.35">5µM</text>
<rect x="1131.8" y="123.1" width="13.0" height="140.6" fill="#fff"/>
<rect x="1133.8" y="84.4" width="9" height="40.7" fill="#fff"/>
<line x1="1138.3" y1="86.4" x2="1138.3" y2="125.1" stroke="#7f7f7f" stroke-width="1.4"/>
<line x1="1135.1" y1="86.4" x2="1141.5" y2="86.4" stroke="#6f6f6f" stroke-width="1.6"/>
<rect x="1134.3" y="125.1" width="8.0" height="139.6" rx="1.5" fill="url(#hB)" stroke="#111" stroke-width="1.9"/>
<text transform="translate(1141.8,289.2) rotate(-45)" text-anchor="end" font-size="18" fill="#1a1a1a" stroke="#1a1a1a" stroke-width="0.35">10µM</text>
<rect x="1160.3" y="136.9" width="13.0" height="126.8" fill="#fff"/>
<rect x="1162.3" y="102.9" width="9" height="36.0" fill="#fff"/>
<line x1="1166.8" y1="104.9" x2="1166.8" y2="138.9" stroke="#7f7f7f" stroke-width="1.4"/>
<line x1="1163.6" y1="104.9" x2="1170.0" y2="104.9" stroke="#6f6f6f" stroke-width="1.6"/>
<rect x="1162.8" y="138.9" width="8.0" height="125.8" rx="1.5" fill="url(#hB)" stroke="#111" stroke-width="1.9"/>
<text transform="translate(1170.3,289.2) rotate(-45)" text-anchor="end" font-size="18" fill="#1a1a1a" stroke="#1a1a1a" stroke-width="0.35">20µM</text>
<text x="951" y="33" font-size="28" font-weight="bold" fill="#404040" textLength="103.0" lengthAdjust="spacingAndGlyphs">p-GCN2</text>
<text transform="translate(756,291.7) rotate(-90)" font-size="15.5" fill="#111" stroke="#111" stroke-width="0.35" textLength="240.7" lengthAdjust="spacingAndGlyphs" >Relative protein expression</text>
<line x1="966.3" y1="339.8" x2="1059.8" y2="339.8" stroke="#8c8c8c" stroke-width="1.6"/>
<line x1="1087.4" y1="339.8" x2="1181" y2="339.8" stroke="#8c8c8c" stroke-width="1.6"/>
<text x="980" y="364.6" font-size="16" fill="#111" stroke="#111" stroke-width="0.45" textLength="73.0" lengthAdjust="spacingAndGlyphs">APX2009</text>
<text x="1103.9" y="364.6" font-size="16" fill="#111" stroke="#111" stroke-width="0.45" textLength="72.9" lengthAdjust="spacingAndGlyphs">APX2014</text>
<text x="728" y="30.3" font-size="29" font-weight="bold" fill="#000">B</text>
<line x1="1365.7" y1="290.5" x2="1746.5" y2="290.5" stroke="#d9d9d9" stroke-width="1.6"/>
<text x="1348.3" y="294.6" text-anchor="end" font-size="15.5" fill="#5a5a5a" stroke="#5a5a5a" stroke-width="0.3" textLength="36" lengthAdjust="spacingAndGlyphs">0.00</text>
<line x1="1365.7" y1="261.8" x2="1746.5" y2="261.8" stroke="#d9d9d9" stroke-width="1.6"/>
<text x="1348.3" y="265.9" text-anchor="end" font-size="15.5" fill="#5a5a5a" stroke="#5a5a5a" stroke-width="0.3" textLength="36" lengthAdjust="spacingAndGlyphs">0.50</text>
<line x1="1365.7" y1="233.1" x2="1746.5" y2="233.1" stroke="#d9d9d9" stroke-width="1.6"/>
<text x="1348.3" y="237.2" text-anchor="end" font-size="15.5" fill="#5a5a5a" stroke="#5a5a5a" stroke-width="0.3" textLength="36" lengthAdjust="spacingAndGlyphs">1.00</text>
<line x1="1365.7" y1="204.4" x2="1746.5" y2="204.4" stroke="#d9d9d9" stroke-width="1.6"/>
<text x="1348.3" y="208.5" text-anchor="end" font-size="15.5" fill="#5a5a5a" stroke="#5a5a5a" stroke-width="0.3" textLength="36" lengthAdjust="spacingAndGlyphs">1.50</text>
<line x1="1365.7" y1="175.7" x2="1746.5" y2="175.7" stroke="#d9d9d9" stroke-width="1.6"/>
<text x="1348.3" y="179.8" text-anchor="end" font-size="15.5" fill="#5a5a5a" stroke="#5a5a5a" stroke-width="0.3" textLength="36" lengthAdjust="spacingAndGlyphs">2.00</text>
<line x1="1365.7" y1="147.0" x2="1746.5" y2="147.0" stroke="#d9d9d9" stroke-width="1.6"/>
<text x="1348.3" y="151.1" text-anchor="end" font-size="15.5" fill="#5a5a5a" stroke="#5a5a5a" stroke-width="0.3" textLength="36" lengthAdjust="spacingAndGlyphs">2.50</text>
<line x1="1365.7" y1="118.3" x2="1746.5" y2="118.3" stroke="#d9d9d9" stroke-width="1.6"/>
<text x="1348.3" y="122.4" text-anchor="end" font-size="15.5" fill="#5a5a5a" stroke="#5a5a5a" stroke-width="0.3" textLength="36" lengthAdjust="spacingAndGlyphs">3.00</text>
<line x1="1365.7" y1="89.6" x2="1746.5" y2="89.6" stroke="#d9d9d9" stroke-width="1.6"/>
<text x="1348.3" y="93.7" text-anchor="end" font-size="15.5" fill="#5a5a5a" stroke="#5a5a5a" stroke-width="0.3" textLength="36" lengthAdjust="spacingAndGlyphs">3.50</text>
<line x1="1365.7" y1="60.9" x2="1746.5" y2="60.9" stroke="#d9d9d9" stroke-width="1.6"/>
<text x="1348.3" y="65.0" text-anchor="end" font-size="15.5" fill="#5a5a5a" stroke="#5a5a5a" stroke-width="0.3" textLength="36" lengthAdjust="spacingAndGlyphs">4.00</text>
<rect x="1373.2" y="260.4" width="14.2" height="29.1" fill="#fff"/>
<rect x="1375.8" y="245.4" width="9" height="16.9" fill="#fff"/>
<line x1="1380.3" y1="247.4" x2="1380.3" y2="262.4" stroke="#7f7f7f" stroke-width="1.4"/>
<line x1="1377.1" y1="247.4" x2="1383.5" y2="247.4" stroke="#6f6f6f" stroke-width="1.6"/>
<rect x="1375.7" y="262.4" width="9.2" height="28.1" rx="1.5" fill="#d9620f" stroke="#3b1804" stroke-width="1.6"/>
<text transform="translate(1385.3,316.1) rotate(-45)" text-anchor="end" font-size="18" fill="#1a1a1a" stroke="#1a1a1a" stroke-width="0.35">HF</text>
<rect x="1402.5" y="116.9" width="14.2" height="172.6" fill="#fff"/>
<rect x="1405.1" y="77.3" width="9" height="41.6" fill="#fff"/>
<line x1="1409.6" y1="79.3" x2="1409.6" y2="118.9" stroke="#7f7f7f" stroke-width="1.4"/>
<line x1="1406.4" y1="79.3" x2="1412.8" y2="79.3" stroke="#6f6f6f" stroke-width="1.6"/>
<rect x="1405.0" y="118.9" width="9.2" height="171.6" rx="1.5" fill="#d9620f" stroke="#3b1804" stroke-width="1.6"/>
<text transform="translate(1414.6,316.1) rotate(-45)" text-anchor="end" font-size="18" fill="#1a1a1a" stroke="#1a1a1a" stroke-width="0.35">Thap</text>
<rect x="1461.1" y="242.0" width="14.2" height="47.5" fill="#fff"/>
<rect x="1463.7" y="228.2" width="9" height="15.8" fill="#fff"/>
<line x1="1468.2" y1="230.2" x2="1468.2" y2="244.0" stroke="#7f7f7f" stroke-width="1.4"/>
<line x1="1465.0" y1="230.2" x2="1471.4" y2="230.2" stroke="#6f6f6f" stroke-width="1.6"/>
<rect x="1463.6" y="244.0" width="9.2" height="46.5" rx="1.5" fill="url(#hO)" stroke="#2a1a10" stroke-width="1.9"/>
<text transform="translate(1473.2,316.1) rotate(-45)" text-anchor="end" font-size="18" fill="#1a1a1a" stroke="#1a1a1a" stroke-width="0.35">RN7-58</text>
<rect x="1490.4" y="231.1" width="14.2" height="58.4" fill="#fff"/>
<rect x="1492.9" y="233.1" width="9.2" height="57.4" rx="1.5" fill="#f9c18e" stroke="#3b2010" stroke-width="1.6"/>
<text transform="translate(1502.5,316.1) rotate(-45)" text-anchor="end" font-size="18" fill="#1a1a1a" stroke="#1a1a1a" stroke-width="0.35">CTR</text>
<rect x="1549.0" y="226.5" width="14.2" height="63.0" fill="#fff"/>
<rect x="1551.6" y="217.3" width="9" height="11.2" fill="#fff"/>
<line x1="1556.1" y1="219.3" x2="1556.1" y2="228.5" stroke="#7f7f7f" stroke-width="1.4"/>
<line x1="1552.9" y1="219.3" x2="1559.3" y2="219.3" stroke="#6f6f6f" stroke-width="1.6"/>
<rect x="1551.5" y="228.5" width="9.2" height="62.0" rx="1.5" fill="url(#hG)" stroke="#111" stroke-width="1.9"/>
<text transform="translate(1561.1,316.1) rotate(-45)" text-anchor="end" font-size="18" fill="#1a1a1a" stroke="#1a1a1a" stroke-width="0.35">5µM</text>
<rect x="1578.3" y="215.0" width="14.2" height="74.5" fill="#fff"/>
<rect x="1580.9" y="197.2" width="9" height="19.8" fill="#fff"/>
<line x1="1585.4" y1="199.2" x2="1585.4" y2="217.0" stroke="#7f7f7f" stroke-width="1.4"/>
<line x1="1582.2" y1="199.2" x2="1588.6" y2="199.2" stroke="#6f6f6f" stroke-width="1.6"/>
<rect x="1580.8" y="217.0" width="9.2" height="73.5" rx="1.5" fill="url(#hG)" stroke="#111" stroke-width="1.9"/>
<text transform="translate(1590.4,316.1) rotate(-45)" text-anchor="end" font-size="18" fill="#1a1a1a" stroke="#1a1a1a" stroke-width="0.35">10µM</text>
<rect x="1607.6" y="172.6" width="14.2" height="116.9" fill="#fff"/>
<rect x="1610.2" y="162.2" width="9" height="12.3" fill="#fff"/>
<line x1="1614.7" y1="164.2" x2="1614.7" y2="174.6" stroke="#7f7f7f" stroke-width="1.4"/>
<line x1="1611.5" y1="164.2" x2="1617.9" y2="164.2" stroke="#6f6f6f" stroke-width="1.6"/>
<rect x="1610.1" y="174.6" width="9.2" height="115.9" rx="1.5" fill="url(#hG)" stroke="#111" stroke-width="1.9"/>
<text transform="translate(1619.7,316.1) rotate(-45)" text-anchor="end" font-size="18" fill="#1a1a1a" stroke="#1a1a1a" stroke-width="0.35">20µM</text>
<rect x="1666.2" y="211.0" width="14.2" height="78.5" fill="#fff"/>
<rect x="1668.8" y="203.5" width="9" height="9.5" fill="#fff"/>
<line x1="1673.3" y1="205.5" x2="1673.3" y2="213.0" stroke="#7f7f7f" stroke-width="1.4"/>
<line x1="1670.1" y1="205.5" x2="1676.5" y2="205.5" stroke="#6f6f6f" stroke-width="1.6"/>
<rect x="1668.7" y="213.0" width="9.2" height="77.5" rx="1.5" fill="url(#hB)" stroke="#111" stroke-width="1.9"/>
<text transform="translate(1678.3,316.1) rotate(-45)" text-anchor="end" font-size="18" fill="#1a1a1a" stroke="#1a1a1a" stroke-width="0.35">5µM</text>
<rect x="1695.5" y="172.6" width="14.2" height="116.9" fill="#fff"/>
<rect x="1698.1" y="156.5" width="9" height="18.1" fill="#fff"/>
<line x1="1702.6" y1="158.5" x2="1702.6" y2="174.6" stroke="#7f7f7f" stroke-width="1.4"/>
<line x1="1699.4" y1="158.5" x2="1705.8" y2="158.5" stroke="#6f6f6f" stroke-width="1.6"/>
<rect x="1698.0" y="174.6" width="9.2" height="115.9" rx="1.5" fill="url(#hB)" stroke="#111" stroke-width="1.9"/>
<text transform="translate(1707.6,316.1) rotate(-45)" text-anchor="end" font-size="18" fill="#1a1a1a" stroke="#1a1a1a" stroke-width="0.35">10µM</text>
<rect x="1724.8" y="157.1" width="14.2" height="132.4" fill="#fff"/>
<rect x="1727.4" y="143.3" width="9" height="15.8" fill="#fff"/>
<line x1="1731.9" y1="145.3" x2="1731.9" y2="159.1" stroke="#7f7f7f" stroke-width="1.4"/>
<line x1="1728.7" y1="145.3" x2="1735.1" y2="145.3" stroke="#6f6f6f" stroke-width="1.6"/>
<rect x="1727.3" y="159.1" width="9.2" height="131.4" rx="1.5" fill="url(#hB)" stroke="#111" stroke-width="1.9"/>
<text transform="translate(1736.9,316.1) rotate(-45)" text-anchor="end" font-size="18" fill="#1a1a1a" stroke="#1a1a1a" stroke-width="0.35">20µM</text>
<text x="1520.6" y="24.6" font-size="28" font-weight="bold" fill="#404040" textLength="98.4" lengthAdjust="spacingAndGlyphs">p-PERK</text>
<text transform="translate(1301,284) rotate(-90)" font-size="15.5" fill="#111" stroke="#111" stroke-width="0.1" textLength="226.0" lengthAdjust="spacingAndGlyphs" font-weight="bold">Relative protein expression</text>
<line x1="1523.5" y1="370" x2="1619" y2="370" stroke="#8c8c8c" stroke-width="1.6"/>
<line x1="1645" y1="370" x2="1740.7" y2="370" stroke="#8c8c8c" stroke-width="1.6"/>
<text x="1520.6" y="393.9" font-size="16" fill="#111" stroke="#111" stroke-width="0.45" textLength="80.4" lengthAdjust="spacingAndGlyphs">APX2009</text>
<text x="1646.6" y="393.9" font-size="16" fill="#111" stroke="#111" stroke-width="0.45" textLength="80.2" lengthAdjust="spacingAndGlyphs">APX2014</text>
<text x="1273" y="30.4" font-size="29" font-weight="bold" fill="#000">C</text>
<line x1="1612.7" y1="142.8" x2="1612.7" y2="153.2" stroke="#000" stroke-width="2.9" stroke-linecap="round"/><line x1="1608.2" y1="145.4" x2="1617.2" y2="150.6" stroke="#000" stroke-width="2.9" stroke-linecap="round"/><line x1="1617.2" y1="145.4" x2="1608.2" y2="150.6" stroke="#000" stroke-width="2.9" stroke-linecap="round"/>
<line x1="1702.0" y1="142.2" x2="1702.0" y2="151.8" stroke="#000" stroke-width="2.9" stroke-linecap="round"/><line x1="1697.8" y1="144.6" x2="1706.2" y2="149.4" stroke="#000" stroke-width="2.9" stroke-linecap="round"/><line x1="1706.2" y1="144.6" x2="1697.8" y2="149.4" stroke="#000" stroke-width="2.9" stroke-linecap="round"/>
<line x1="1718.5" y1="124.7" x2="1718.5" y2="134.3" stroke="#000" stroke-width="2.9" stroke-linecap="round"/><line x1="1714.3" y1="127.1" x2="1722.7" y2="131.9" stroke="#000" stroke-width="2.9" stroke-linecap="round"/><line x1="1722.7" y1="127.1" x2="1714.3" y2="131.9" stroke="#000" stroke-width="2.9" stroke-linecap="round"/>
<line x1="1734.5" y1="124.7" x2="1734.5" y2="134.3" stroke="#000" stroke-width="2.9" stroke-linecap="round"/><line x1="1730.3" y1="127.1" x2="1738.7" y2="131.9" stroke="#000" stroke-width="2.9" stroke-linecap="round"/><line x1="1738.7" y1="127.1" x2="1730.3" y2="131.9" stroke="#000" stroke-width="2.9" stroke-linecap="round"/>
<line x1="798.2" y1="760.2" x2="1182.8" y2="760.2" stroke="#d9d9d9" stroke-width="1.6"/>
<text x="783.4" y="765.6" text-anchor="end" font-size="15" fill="#707070" stroke="#707070" stroke-width="0.3" textLength="25.6" lengthAdjust="spacingAndGlyphs">0.00</text>
<line x1="798.2" y1="730.6" x2="1182.8" y2="730.6" stroke="#d9d9d9" stroke-width="1.6"/>
<text x="783.4" y="736.0" text-anchor="end" font-size="15" fill="#707070" stroke="#707070" stroke-width="0.3" textLength="25.6" lengthAdjust="spacingAndGlyphs">0.50</text>
<line x1="798.2" y1="701.0" x2="1182.8" y2="701.0" stroke="#d9d9d9" stroke-width="1.6"/>
<text x="783.4" y="706.4" text-anchor="end" font-size="15" fill="#707070" stroke="#707070" stroke-width="0.3" textLength="25.6" lengthAdjust="spacingAndGlyphs">1.00</text>
<line x1="798.2" y1="671.4" x2="1182.8" y2="671.4" stroke="#d9d9d9" stroke-width="1.6"/>
<text x="783.4" y="676.8" text-anchor="end" font-size="15" fill="#707070" stroke="#707070" stroke-width="0.3" textLength="25.6" lengthAdjust="spacingAndGlyphs">1.50</text>
<line x1="798.2" y1="641.8" x2="1182.8" y2="641.8" stroke="#d9d9d9" stroke-width="1.6"/>
<text x="783.4" y="647.2" text-anchor="end" font-size="15" fill="#707070" stroke="#707070" stroke-width="0.3" textLength="25.6" lengthAdjust="spacingAndGlyphs">2.00</text>
<line x1="798.2" y1="612.2" x2="1182.8" y2="612.2" stroke="#d9d9d9" stroke-width="1.6"/>
<text x="783.4" y="617.6" text-anchor="end" font-size="15" fill="#707070" stroke="#707070" stroke-width="0.3" textLength="25.6" lengthAdjust="spacingAndGlyphs">2.50</text>
<line x1="798.2" y1="582.6" x2="1182.8" y2="582.6" stroke="#d9d9d9" stroke-width="1.6"/>
<text x="783.4" y="588.0" text-anchor="end" font-size="15" fill="#707070" stroke="#707070" stroke-width="0.3" textLength="25.6" lengthAdjust="spacingAndGlyphs">3.00</text>
<line x1="798.2" y1="553.0" x2="1182.8" y2="553.0" stroke="#d9d9d9" stroke-width="1.6"/>
<text x="783.4" y="558.4" text-anchor="end" font-size="15" fill="#707070" stroke="#707070" stroke-width="0.3" textLength="25.6" lengthAdjust="spacingAndGlyphs">3.50</text>
<rect x="806.3" y="600.1" width="13.4" height="159.1" fill="#fff"/>
<rect x="808.5" y="571.7" width="9" height="30.4" fill="#fff"/>
<line x1="813.0" y1="573.7" x2="813.0" y2="602.1" stroke="#7f7f7f" stroke-width="1.4"/>
<line x1="809.8" y1="573.7" x2="816.2" y2="573.7" stroke="#6f6f6f" stroke-width="1.6"/>
<rect x="808.8" y="602.1" width="8.4" height="158.1" rx="1.5" fill="#d9620f" stroke="#3b1804" stroke-width="1.6"/>
<text transform="translate(817.5,786.5) rotate(-45)" text-anchor="end" font-size="18" fill="#1a1a1a" stroke="#1a1a1a" stroke-width="0.35">HF</text>
<rect x="835.9" y="650.5" width="13.4" height="108.7" fill="#fff"/>
<rect x="838.1" y="639.8" width="9" height="12.7" fill="#fff"/>
<line x1="842.6" y1="641.8" x2="842.6" y2="652.5" stroke="#7f7f7f" stroke-width="1.4"/>
<line x1="839.4" y1="641.8" x2="845.8" y2="641.8" stroke="#6f6f6f" stroke-width="1.6"/>
<rect x="838.4" y="652.5" width="8.4" height="107.7" rx="1.5" fill="#d9620f" stroke="#3b1804" stroke-width="1.6"/>
<text transform="translate(847.1,786.5) rotate(-45)" text-anchor="end" font-size="18" fill="#1a1a1a" stroke="#1a1a1a" stroke-width="0.35">Thap</text>
<rect x="895.0" y="691.9" width="13.4" height="67.3" fill="#fff"/>
<rect x="897.2" y="682.4" width="9" height="11.5" fill="#fff"/>
<line x1="901.7" y1="684.4" x2="901.7" y2="693.9" stroke="#7f7f7f" stroke-width="1.4"/>
<line x1="898.5" y1="684.4" x2="904.9" y2="684.4" stroke="#6f6f6f" stroke-width="1.6"/>
<rect x="897.5" y="693.9" width="8.4" height="66.3" rx="1.5" fill="url(#hO)" stroke="#2a1a10" stroke-width="1.9"/>
<text transform="translate(906.2,786.5) rotate(-45)" text-anchor="end" font-size="18" fill="#1a1a1a" stroke="#1a1a1a" stroke-width="0.35">RN7-58</text>
<rect x="924.6" y="699.0" width="13.4" height="60.2" fill="#fff"/>
<rect x="927.1" y="701.0" width="8.4" height="59.2" rx="1.5" fill="#f9c18e" stroke="#3b2010" stroke-width="1.6"/>
<text transform="translate(935.8,786.5) rotate(-45)" text-anchor="end" font-size="18" fill="#1a1a1a" stroke="#1a1a1a" stroke-width="0.35">CTR</text>
<rect x="983.8" y="700.8" width="13.4" height="58.4" fill="#fff"/>
<rect x="986.0" y="697.2" width="9" height="5.6" fill="#fff"/>
<line x1="990.5" y1="699.2" x2="990.5" y2="702.8" stroke="#7f7f7f" stroke-width="1.4"/>
<line x1="987.3" y1="699.2" x2="993.7" y2="699.2" stroke="#6f6f6f" stroke-width="1.6"/>
<rect x="986.3" y="702.8" width="8.4" height="57.4" rx="1.5" fill="url(#hG)" stroke="#111" stroke-width="1.9"/>
<text transform="translate(995.0,786.5) rotate(-45)" text-anchor="end" font-size="18" fill="#1a1a1a" stroke="#1a1a1a" stroke-width="0.35">5µM</text>
<rect x="1013.4" y="687.8" width="13.4" height="71.4" fill="#fff"/>
<rect x="1015.9" y="689.8" width="8.4" height="70.4" rx="1.5" fill="url(#hG)" stroke="#111" stroke-width="1.9"/>
<text transform="translate(1024.6,786.5) rotate(-45)" text-anchor="end" font-size="18" fill="#1a1a1a" stroke="#1a1a1a" stroke-width="0.35">10µM</text>
<rect x="1043.0" y="644.5" width="13.4" height="114.7" fill="#fff"/>
<rect x="1045.2" y="634.5" width="9" height="12.1" fill="#fff"/>
<line x1="1049.7" y1="636.5" x2="1049.7" y2="646.5" stroke="#7f7f7f" stroke-width="1.4"/>
<line x1="1046.5" y1="636.5" x2="1052.9" y2="636.5" stroke="#6f6f6f" stroke-width="1.6"/>
<rect x="1045.5" y="646.5" width="8.4" height="113.7" rx="1.5" fill="url(#hG)" stroke="#111" stroke-width="1.9"/>
<text transform="translate(1054.2,786.5) rotate(-45)" text-anchor="end" font-size="18" fill="#1a1a1a" stroke="#1a1a1a" stroke-width="0.35">20µM</text>
<rect x="1102.1" y="687.8" width="13.4" height="71.4" fill="#fff"/>
<rect x="1104.3" y="678.3" width="9" height="11.5" fill="#fff"/>
<line x1="1108.8" y1="680.3" x2="1108.8" y2="689.8" stroke="#7f7f7f" stroke-width="1.4"/>
<line x1="1105.6" y1="680.3" x2="1112.0" y2="680.3" stroke="#6f6f6f" stroke-width="1.6"/>
<rect x="1104.6" y="689.8" width="8.4" height="70.4" rx="1.5" fill="url(#hB)" stroke="#111" stroke-width="1.9"/>
<text transform="translate(1113.3,786.5) rotate(-45)" text-anchor="end" font-size="18" fill="#1a1a1a" stroke="#1a1a1a" stroke-width="0.35">5µM</text>
<rect x="1131.7" y="652.2" width="13.4" height="107.0" fill="#fff"/>
<rect x="1133.9" y="637.4" width="9" height="16.8" fill="#fff"/>
<line x1="1138.4" y1="639.4" x2="1138.4" y2="654.2" stroke="#7f7f7f" stroke-width="1.4"/>
<line x1="1135.2" y1="639.4" x2="1141.6" y2="639.4" stroke="#6f6f6f" stroke-width="1.6"/>
<rect x="1134.2" y="654.2" width="8.4" height="106.0" rx="1.5" fill="url(#hB)" stroke="#111" stroke-width="1.9"/>
<text transform="translate(1142.9,786.5) rotate(-45)" text-anchor="end" font-size="18" fill="#1a1a1a" stroke="#1a1a1a" stroke-width="0.35">10µM</text>
<rect x="1161.3" y="605.5" width="13.4" height="153.7" fill="#fff"/>
<rect x="1163.5" y="581.8" width="9" height="25.7" fill="#fff"/>
<line x1="1168.0" y1="583.8" x2="1168.0" y2="607.5" stroke="#7f7f7f" stroke-width="1.4"/>
<line x1="1164.8" y1="583.8" x2="1171.2" y2="583.8" stroke="#6f6f6f" stroke-width="1.6"/>
<rect x="1163.8" y="607.5" width="8.4" height="152.7" rx="1.5" fill="url(#hB)" stroke="#111" stroke-width="1.9"/>
<text transform="translate(1172.5,786.5) rotate(-45)" text-anchor="end" font-size="18" fill="#1a1a1a" stroke="#1a1a1a" stroke-width="0.35">20µM</text>
<text x="940" y="534.3" font-size="28" font-weight="bold" fill="#404040" textLength="104.3" lengthAdjust="spacingAndGlyphs">p-eIF2α</text>
<text transform="translate(749,798.3) rotate(-90)" font-size="22" fill="#111" stroke="#111" stroke-width="0.5" textLength="286.8" lengthAdjust="spacingAndGlyphs" >Relative protein expression</text>
<line x1="967.7" y1="835.8" x2="1060.6" y2="835.8" stroke="#8c8c8c" stroke-width="1.6"/>
<line x1="1085.7" y1="835.8" x2="1179.6" y2="835.8" stroke="#8c8c8c" stroke-width="1.6"/>
<text x="979" y="863.5" font-size="17" fill="#111" stroke="#111" stroke-width="0.45" textLength="78.4" lengthAdjust="spacingAndGlyphs">APX2009</text>
<text x="1103" y="863.5" font-size="17" fill="#111" stroke="#111" stroke-width="0.45" textLength="78.2" lengthAdjust="spacingAndGlyphs">APX2014</text>
<text x="728" y="464.2" font-size="29" font-weight="bold" fill="#000">D</text>
<line x1="1049.0" y1="616.3" x2="1049.0" y2="626.7" stroke="#000" stroke-width="2.9" stroke-linecap="round"/><line x1="1044.5" y1="618.9" x2="1053.5" y2="624.1" stroke="#000" stroke-width="2.9" stroke-linecap="round"/><line x1="1053.5" y1="618.9" x2="1044.5" y2="624.1" stroke="#000" stroke-width="2.9" stroke-linecap="round"/>
<line x1="1146.0" y1="566.2" x2="1146.0" y2="577.4" stroke="#000" stroke-width="2.9" stroke-linecap="round"/><line x1="1141.2" y1="569.0" x2="1150.8" y2="574.6" stroke="#000" stroke-width="2.9" stroke-linecap="round"/><line x1="1150.8" y1="569.0" x2="1141.2" y2="574.6" stroke="#000" stroke-width="2.9" stroke-linecap="round"/>
<line x1="1166.0" y1="566.2" x2="1166.0" y2="577.4" stroke="#000" stroke-width="2.9" stroke-linecap="round"/><line x1="1161.2" y1="569.0" x2="1170.8" y2="574.6" stroke="#000" stroke-width="2.9" stroke-linecap="round"/><line x1="1170.8" y1="569.0" x2="1161.2" y2="574.6" stroke="#000" stroke-width="2.9" stroke-linecap="round"/>
<line x1="1186.0" y1="566.2" x2="1186.0" y2="577.4" stroke="#000" stroke-width="2.9" stroke-linecap="round"/><line x1="1181.2" y1="569.0" x2="1190.8" y2="574.6" stroke="#000" stroke-width="2.9" stroke-linecap="round"/><line x1="1190.8" y1="569.0" x2="1181.2" y2="574.6" stroke="#000" stroke-width="2.9" stroke-linecap="round"/>
<line x1="1393.6" y1="773.9" x2="1753.8" y2="773.9" stroke="#d9d9d9" stroke-width="1.6"/>
<text x="1380.8" y="778.4" text-anchor="end" font-size="12.5" fill="#8c8c8c" stroke="#8c8c8c" stroke-width="0.1" textLength="22.5" lengthAdjust="spacingAndGlyphs">0.00</text>
<line x1="1393.6" y1="750.7" x2="1753.8" y2="750.7" stroke="#d9d9d9" stroke-width="1.6"/>
<text x="1380.8" y="755.2" text-anchor="end" font-size="12.5" fill="#8c8c8c" stroke="#8c8c8c" stroke-width="0.1" textLength="22.5" lengthAdjust="spacingAndGlyphs">0.50</text>
<line x1="1393.6" y1="727.5" x2="1753.8" y2="727.5" stroke="#d9d9d9" stroke-width="1.6"/>
<text x="1380.8" y="732.0" text-anchor="end" font-size="12.5" fill="#8c8c8c" stroke="#8c8c8c" stroke-width="0.1" textLength="22.5" lengthAdjust="spacingAndGlyphs">1.00</text>
<line x1="1393.6" y1="704.3" x2="1753.8" y2="704.3" stroke="#d9d9d9" stroke-width="1.6"/>
<text x="1380.8" y="708.8" text-anchor="end" font-size="12.5" fill="#8c8c8c" stroke="#8c8c8c" stroke-width="0.1" textLength="22.5" lengthAdjust="spacingAndGlyphs">1.50</text>
<line x1="1393.6" y1="681.1" x2="1753.8" y2="681.1" stroke="#d9d9d9" stroke-width="1.6"/>
<text x="1380.8" y="685.6" text-anchor="end" font-size="12.5" fill="#8c8c8c" stroke="#8c8c8c" stroke-width="0.1" textLength="22.5" lengthAdjust="spacingAndGlyphs">2.00</text>
<line x1="1393.6" y1="657.9" x2="1753.8" y2="657.9" stroke="#d9d9d9" stroke-width="1.6"/>
<text x="1380.8" y="662.4" text-anchor="end" font-size="12.5" fill="#8c8c8c" stroke="#8c8c8c" stroke-width="0.1" textLength="22.5" lengthAdjust="spacingAndGlyphs">2.50</text>
<line x1="1393.6" y1="634.7" x2="1753.8" y2="634.7" stroke="#d9d9d9" stroke-width="1.6"/>
<text x="1380.8" y="639.2" text-anchor="end" font-size="12.5" fill="#8c8c8c" stroke="#8c8c8c" stroke-width="0.1" textLength="22.5" lengthAdjust="spacingAndGlyphs">3.00</text>
<line x1="1393.6" y1="611.5" x2="1753.8" y2="611.5" stroke="#d9d9d9" stroke-width="1.6"/>
<text x="1380.8" y="616.0" text-anchor="end" font-size="12.5" fill="#8c8c8c" stroke="#8c8c8c" stroke-width="0.1" textLength="22.5" lengthAdjust="spacingAndGlyphs">3.50</text>
<line x1="1393.6" y1="588.3" x2="1753.8" y2="588.3" stroke="#d9d9d9" stroke-width="1.6"/>
<text x="1380.8" y="592.8" text-anchor="end" font-size="12.5" fill="#8c8c8c" stroke="#8c8c8c" stroke-width="0.1" textLength="22.5" lengthAdjust="spacingAndGlyphs">4.00</text>
<line x1="1393.6" y1="565.1" x2="1753.8" y2="565.1" stroke="#d9d9d9" stroke-width="1.6"/>
<text x="1380.8" y="569.6" text-anchor="end" font-size="12.5" fill="#8c8c8c" stroke="#8c8c8c" stroke-width="0.1" textLength="22.5" lengthAdjust="spacingAndGlyphs">4.50</text>
<line x1="1393.6" y1="541.9" x2="1753.8" y2="541.9" stroke="#d9d9d9" stroke-width="1.6"/>
<text x="1380.8" y="546.4" text-anchor="end" font-size="12.5" fill="#8c8c8c" stroke="#8c8c8c" stroke-width="0.1" textLength="22.5" lengthAdjust="spacingAndGlyphs">5.00</text>
<rect x="1400.9" y="624.3" width="13.2" height="148.6" fill="#fff"/>
<rect x="1403.0" y="604.4" width="9" height="22.0" fill="#fff"/>
<line x1="1407.5" y1="606.4" x2="1407.5" y2="626.3" stroke="#7f7f7f" stroke-width="1.4"/>
<line x1="1404.3" y1="606.4" x2="1410.7" y2="606.4" stroke="#6f6f6f" stroke-width="1.6"/>
<rect x="1403.4" y="626.3" width="8.2" height="147.6" rx="1.5" fill="#d9620f" stroke="#3b1804" stroke-width="1.6"/>
<text transform="translate(1411.0,794.4) rotate(-45)" text-anchor="end" font-size="17" fill="#1a1a1a" stroke="#1a1a1a" stroke-width="0.35">HF</text>
<rect x="1428.6" y="597.9" width="13.2" height="175.0" fill="#fff"/>
<rect x="1430.7" y="568.2" width="9" height="31.7" fill="#fff"/>
<line x1="1435.2" y1="570.2" x2="1435.2" y2="599.9" stroke="#7f7f7f" stroke-width="1.4"/>
<line x1="1432.0" y1="570.2" x2="1438.4" y2="570.2" stroke="#6f6f6f" stroke-width="1.6"/>
<rect x="1431.1" y="599.9" width="8.2" height="174.0" rx="1.5" fill="#d9620f" stroke="#3b1804" stroke-width="1.6"/>
<text transform="translate(1438.7,794.4) rotate(-45)" text-anchor="end" font-size="17" fill="#1a1a1a" stroke="#1a1a1a" stroke-width="0.35">Thap</text>
<rect x="1484.0" y="726.9" width="13.2" height="46.0" fill="#fff"/>
<rect x="1486.1" y="723.6" width="9" height="5.2" fill="#fff"/>
<line x1="1490.6" y1="725.6" x2="1490.6" y2="728.9" stroke="#7f7f7f" stroke-width="1.4"/>
<line x1="1487.4" y1="725.6" x2="1493.8" y2="725.6" stroke="#6f6f6f" stroke-width="1.6"/>
<rect x="1486.5" y="728.9" width="8.2" height="45.0" rx="1.5" fill="url(#hO)" stroke="#2a1a10" stroke-width="1.9"/>
<text transform="translate(1494.1,794.4) rotate(-45)" text-anchor="end" font-size="17" fill="#1a1a1a" stroke="#1a1a1a" stroke-width="0.35">RN7-58</text>
<rect x="1511.7" y="725.5" width="13.2" height="47.4" fill="#fff"/>
<rect x="1514.2" y="727.5" width="8.2" height="46.4" rx="1.5" fill="#f9c18e" stroke="#3b2010" stroke-width="1.6"/>
<text transform="translate(1521.8,794.4) rotate(-45)" text-anchor="end" font-size="17" fill="#1a1a1a" stroke="#1a1a1a" stroke-width="0.35">CTR</text>
<rect x="1567.1" y="714.8" width="13.2" height="58.1" fill="#fff"/>
<rect x="1569.2" y="706.5" width="9" height="10.4" fill="#fff"/>
<line x1="1573.7" y1="708.5" x2="1573.7" y2="716.8" stroke="#7f7f7f" stroke-width="1.4"/>
<line x1="1570.5" y1="708.5" x2="1576.9" y2="708.5" stroke="#6f6f6f" stroke-width="1.6"/>
<rect x="1569.6" y="716.8" width="8.2" height="57.1" rx="1.5" fill="url(#hG)" stroke="#111" stroke-width="1.9"/>
<text transform="translate(1577.2,794.4) rotate(-45)" text-anchor="end" font-size="17" fill="#1a1a1a" stroke="#1a1a1a" stroke-width="0.35">5µM</text>
<rect x="1594.8" y="684.7" width="13.2" height="88.2" fill="#fff"/>
<rect x="1596.9" y="669.4" width="9" height="17.3" fill="#fff"/>
<line x1="1601.4" y1="671.4" x2="1601.4" y2="686.7" stroke="#7f7f7f" stroke-width="1.4"/>
<line x1="1598.2" y1="671.4" x2="1604.6" y2="671.4" stroke="#6f6f6f" stroke-width="1.6"/>
<rect x="1597.3" y="686.7" width="8.2" height="87.2" rx="1.5" fill="url(#hG)" stroke="#111" stroke-width="1.9"/>
<text transform="translate(1604.9,794.4) rotate(-45)" text-anchor="end" font-size="17" fill="#1a1a1a" stroke="#1a1a1a" stroke-width="0.35">10µM</text>
<rect x="1622.5" y="669.4" width="13.2" height="103.5" fill="#fff"/>
<rect x="1624.6" y="661.9" width="9" height="9.4" fill="#fff"/>
<line x1="1629.1" y1="663.9" x2="1629.1" y2="671.4" stroke="#7f7f7f" stroke-width="1.4"/>
<line x1="1625.9" y1="663.9" x2="1632.3" y2="663.9" stroke="#6f6f6f" stroke-width="1.6"/>
<rect x="1625.0" y="671.4" width="8.2" height="102.5" rx="1.5" fill="url(#hG)" stroke="#111" stroke-width="1.9"/>
<text transform="translate(1632.6,794.4) rotate(-45)" text-anchor="end" font-size="17" fill="#1a1a1a" stroke="#1a1a1a" stroke-width="0.35">20µM</text>
<rect x="1677.9" y="692.1" width="13.2" height="80.8" fill="#fff"/>
<rect x="1680.0" y="676.3" width="9" height="17.8" fill="#fff"/>
<line x1="1684.5" y1="678.3" x2="1684.5" y2="694.1" stroke="#7f7f7f" stroke-width="1.4"/>
<line x1="1681.3" y1="678.3" x2="1687.7" y2="678.3" stroke="#6f6f6f" stroke-width="1.6"/>
<rect x="1680.4" y="694.1" width="8.2" height="79.8" rx="1.5" fill="url(#hB)" stroke="#111" stroke-width="1.9"/>
<text transform="translate(1688.0,794.4) rotate(-45)" text-anchor="end" font-size="17" fill="#1a1a1a" stroke="#1a1a1a" stroke-width="0.35">5µM</text>
<rect x="1705.6" y="628.5" width="13.2" height="144.4" fill="#fff"/>
<rect x="1707.7" y="615.5" width="9" height="15.0" fill="#fff"/>
<line x1="1712.2" y1="617.5" x2="1712.2" y2="630.5" stroke="#7f7f7f" stroke-width="1.4"/>
<line x1="1709.0" y1="617.5" x2="1715.4" y2="617.5" stroke="#6f6f6f" stroke-width="1.6"/>
<rect x="1708.1" y="630.5" width="8.2" height="143.4" rx="1.5" fill="url(#hB)" stroke="#111" stroke-width="1.9"/>
<text transform="translate(1715.7,794.4) rotate(-45)" text-anchor="end" font-size="17" fill="#1a1a1a" stroke="#1a1a1a" stroke-width="0.35">10µM</text>
<rect x="1733.3" y="628.5" width="13.2" height="144.4" fill="#fff"/>
<rect x="1735.4" y="623.4" width="9" height="7.1" fill="#fff"/>
<line x1="1739.9" y1="625.4" x2="1739.9" y2="630.5" stroke="#7f7f7f" stroke-width="1.4"/>
<line x1="1736.7" y1="625.4" x2="1743.1" y2="625.4" stroke="#6f6f6f" stroke-width="1.6"/>
<rect x="1735.8" y="630.5" width="8.2" height="143.4" rx="1.5" fill="url(#hB)" stroke="#111" stroke-width="1.9"/>
<text transform="translate(1743.4,794.4) rotate(-45)" text-anchor="end" font-size="17" fill="#1a1a1a" stroke="#1a1a1a" stroke-width="0.35">20µM</text>
<text x="1533.8" y="527.8" font-size="28" font-weight="bold" fill="#404040" textLength="61.2" lengthAdjust="spacingAndGlyphs">ATF4</text>
<text transform="translate(1339,827.6) rotate(-90)" font-size="22" fill="#111" stroke="#111" stroke-width="0.5" textLength="293.6" lengthAdjust="spacingAndGlyphs" >Relative protein expression</text>
<line x1="1537" y1="844" x2="1625" y2="844" stroke="#8c8c8c" stroke-width="1.6"/>
<line x1="1657.7" y1="844" x2="1745.7" y2="844" stroke="#8c8c8c" stroke-width="1.6"/>
<text x="1546.8" y="866.8" font-size="16" fill="#111" stroke="#111" stroke-width="0.45" textLength="75.0" lengthAdjust="spacingAndGlyphs">APX2009</text>
<text x="1672.3" y="866.8" font-size="16" fill="#111" stroke="#111" stroke-width="0.45" textLength="73.4" lengthAdjust="spacingAndGlyphs">APX2014</text>
<text x="1271" y="465.9" font-size="29" font-weight="bold" fill="#000">E</text>
<line x1="1630.0" y1="645.2" x2="1630.0" y2="657.8" stroke="#000" stroke-width="3.0" stroke-linecap="round"/><line x1="1624.5" y1="648.4" x2="1635.5" y2="654.6" stroke="#000" stroke-width="3.0" stroke-linecap="round"/><line x1="1635.5" y1="648.4" x2="1624.5" y2="654.6" stroke="#000" stroke-width="3.0" stroke-linecap="round"/>
<line x1="1692.5" y1="593.9" x2="1692.5" y2="603.1" stroke="#000" stroke-width="2.9" stroke-linecap="round"/><line x1="1688.5" y1="596.2" x2="1696.5" y2="600.8" stroke="#000" stroke-width="2.9" stroke-linecap="round"/><line x1="1696.5" y1="596.2" x2="1688.5" y2="600.8" stroke="#000" stroke-width="2.9" stroke-linecap="round"/>
<line x1="1710.5" y1="593.9" x2="1710.5" y2="603.1" stroke="#000" stroke-width="2.9" stroke-linecap="round"/><line x1="1706.5" y1="596.2" x2="1714.5" y2="600.8" stroke="#000" stroke-width="2.9" stroke-linecap="round"/><line x1="1714.5" y1="596.2" x2="1706.5" y2="600.8" stroke="#000" stroke-width="2.9" stroke-linecap="round"/>
<line x1="1728.5" y1="593.9" x2="1728.5" y2="603.1" stroke="#000" stroke-width="2.9" stroke-linecap="round"/><line x1="1724.5" y1="596.2" x2="1732.5" y2="600.8" stroke="#000" stroke-width="2.9" stroke-linecap="round"/><line x1="1732.5" y1="596.2" x2="1724.5" y2="600.8" stroke="#000" stroke-width="2.9" stroke-linecap="round"/>
<line x1="1727.0" y1="612.4" x2="1727.0" y2="621.6" stroke="#000" stroke-width="2.9" stroke-linecap="round"/><line x1="1723.0" y1="614.7" x2="1731.0" y2="619.3" stroke="#000" stroke-width="2.9" stroke-linecap="round"/><line x1="1731.0" y1="614.7" x2="1723.0" y2="619.3" stroke="#000" stroke-width="2.9" stroke-linecap="round"/>
<line x1="1745.0" y1="612.4" x2="1745.0" y2="621.6" stroke="#000" stroke-width="2.9" stroke-linecap="round"/><line x1="1741.0" y1="614.7" x2="1749.0" y2="619.3" stroke="#000" stroke-width="2.9" stroke-linecap="round"/><line x1="1749.0" y1="614.7" x2="1741.0" y2="619.3" stroke="#000" stroke-width="2.9" stroke-linecap="round"/>
<line x1="1763.0" y1="612.4" x2="1763.0" y2="621.6" stroke="#000" stroke-width="2.9" stroke-linecap="round"/><line x1="1759.0" y1="614.7" x2="1767.0" y2="619.3" stroke="#000" stroke-width="2.9" stroke-linecap="round"/><line x1="1767.0" y1="614.7" x2="1759.0" y2="619.3" stroke="#000" stroke-width="2.9" stroke-linecap="round"/>
<path d="M1683.7,669.6 L1683.7,557 Q1683.7,554 1686.7,554 L1739.4,554 Q1742.4,554 1742.4,557 L1742.4,573.4" fill="none" stroke="#2a2a2a" stroke-width="2.1"/>
<line x1="1708.2" y1="540.2" x2="1708.2" y2="549.4" stroke="#000" stroke-width="2.9" stroke-linecap="round"/><line x1="1704.2" y1="542.5" x2="1712.2" y2="547.1" stroke="#000" stroke-width="2.9" stroke-linecap="round"/><line x1="1712.2" y1="542.5" x2="1704.2" y2="547.1" stroke="#000" stroke-width="2.9" stroke-linecap="round"/>
<line x1="1685.4" y1="527.3" x2="1719" y2="527.3" stroke="#1a1a1a" stroke-width="2"/>
<line x1="1700.5" y1="511.8" x2="1700.5" y2="521.0" stroke="#000" stroke-width="2.9" stroke-linecap="round"/><line x1="1696.5" y1="514.1" x2="1704.5" y2="518.7" stroke="#000" stroke-width="2.9" stroke-linecap="round"/><line x1="1704.5" y1="514.1" x2="1696.5" y2="518.7" stroke="#000" stroke-width="2.9" stroke-linecap="round"/>
<text x="958" y="1004.2" font-size="28" font-weight="bold" textLength="17" lengthAdjust="spacingAndGlyphs">F</text>
<line x1="1086" y1="1298.8" x2="1440" y2="1298.8" stroke="#8a8a8a" stroke-width="1.8" stroke-dasharray="2.2 1.8"/>
<line x1="1086" y1="996.3" x2="1086" y2="1308" stroke="#000" stroke-width="2.6"/>
<line x1="1085" y1="1307" x2="1440.5" y2="1307" stroke="#000" stroke-width="2.6"/>
<line x1="1077.5" y1="1307.0" x2="1086" y2="1307.0" stroke="#000" stroke-width="2.4"/>
<line x1="1077.5" y1="1203.4" x2="1086" y2="1203.4" stroke="#000" stroke-width="2.4"/>
<line x1="1077.5" y1="1099.8" x2="1086" y2="1099.8" stroke="#000" stroke-width="2.4"/>
<line x1="1077.5" y1="996.2" x2="1086" y2="996.2" stroke="#000" stroke-width="2.4"/>
<line x1="1081" y1="1255.2" x2="1086" y2="1255.2" stroke="#000" stroke-width="2.2"/>
<line x1="1081" y1="1151.6" x2="1086" y2="1151.6" stroke="#000" stroke-width="2.2"/>
<line x1="1081" y1="1048.0" x2="1086" y2="1048.0" stroke="#000" stroke-width="2.2"/>
<text x="1036.4" y="1001.2" font-size="14" font-weight="bold" textLength="37.9" lengthAdjust="spacingAndGlyphs">6000</text>
<text x="1036.4" y="1104.8" font-size="14" font-weight="bold" textLength="37.9" lengthAdjust="spacingAndGlyphs">4000</text>
<text x="1036.4" y="1208.4" font-size="14" font-weight="bold" textLength="37.9" lengthAdjust="spacingAndGlyphs">2000</text>
<text x="1064.8" y="1312.0" font-size="14" font-weight="bold" textLength="9.5" lengthAdjust="spacingAndGlyphs">0</text>
<line x1="1086.0" y1="1307" x2="1086.0" y2="1315" stroke="#000" stroke-width="2.2"/>
<line x1="1103.7" y1="1307" x2="1103.7" y2="1311.5" stroke="#000" stroke-width="1.6"/>
<line x1="1114.1" y1="1307" x2="1114.1" y2="1311.5" stroke="#000" stroke-width="1.6"/>
<line x1="1121.5" y1="1307" x2="1121.5" y2="1311.5" stroke="#000" stroke-width="1.6"/>
<line x1="1127.2" y1="1307" x2="1127.2" y2="1311.5" stroke="#000" stroke-width="1.6"/>
<line x1="1131.8" y1="1307" x2="1131.8" y2="1311.5" stroke="#000" stroke-width="1.6"/>
<line x1="1135.8" y1="1307" x2="1135.8" y2="1311.5" stroke="#000" stroke-width="1.6"/>
<line x1="1139.2" y1="1307" x2="1139.2" y2="1311.5" stroke="#000" stroke-width="1.6"/>
<line x1="1142.2" y1="1307" x2="1142.2" y2="1311.5" stroke="#000" stroke-width="1.6"/>
<line x1="1144.9" y1="1307" x2="1144.9" y2="1315" stroke="#000" stroke-width="2.2"/>
<line x1="1162.6" y1="1307" x2="1162.6" y2="1311.5" stroke="#000" stroke-width="1.6"/>
<line x1="1173.0" y1="1307" x2="1173.0" y2="1311.5" stroke="#000" stroke-width="1.6"/>
<line x1="1180.4" y1="1307" x2="1180.4" y2="1311.5" stroke="#000" stroke-width="1.6"/>
<line x1="1186.1" y1="1307" x2="1186.1" y2="1311.5" stroke="#000" stroke-width="1.6"/>
<line x1="1190.7" y1="1307" x2="1190.7" y2="1311.5" stroke="#000" stroke-width="1.6"/>
<line x1="1194.7" y1="1307" x2="1194.7" y2="1311.5" stroke="#000" stroke-width="1.6"/>
<line x1="1198.1" y1="1307" x2="1198.1" y2="1311.5" stroke="#000" stroke-width="1.6"/>
<line x1="1201.1" y1="1307" x2="1201.1" y2="1311.5" stroke="#000" stroke-width="1.6"/>
<line x1="1203.8" y1="1307" x2="1203.8" y2="1315" stroke="#000" stroke-width="2.2"/>
<line x1="1221.5" y1="1307" x2="1221.5" y2="1311.5" stroke="#000" stroke-width="1.6"/>
<line x1="1231.9" y1="1307" x2="1231.9" y2="1311.5" stroke="#000" stroke-width="1.6"/>
<line x1="1239.3" y1="1307" x2="1239.3" y2="1311.5" stroke="#000" stroke-width="1.6"/>
<line x1="1245.0" y1="1307" x2="1245.0" y2="1311.5" stroke="#000" stroke-width="1.6"/>
<line x1="1249.6" y1="1307" x2="1249.6" y2="1311.5" stroke="#000" stroke-width="1.6"/>
<line x1="1253.6" y1="1307" x2="1253.6" y2="1311.5" stroke="#000" stroke-width="1.6"/>
<line x1="1257.0" y1="1307" x2="1257.0" y2="1311.5" stroke="#000" stroke-width="1.6"/>
<line x1="1260.0" y1="1307" x2="1260.0" y2="1311.5" stroke="#000" stroke-width="1.6"/>
<line x1="1262.7" y1="1307" x2="1262.7" y2="1315" stroke="#000" stroke-width="2.2"/>
<line x1="1280.4" y1="1307" x2="1280.4" y2="1311.5" stroke="#000" stroke-width="1.6"/>
<line x1="1290.8" y1="1307" x2="1290.8" y2="1311.5" stroke="#000" stroke-width="1.6"/>
<line x1="1298.2" y1="1307" x2="1298.2" y2="1311.5" stroke="#000" stroke-width="1.6"/>
<line x1="1303.9" y1="1307" x2="1303.9" y2="1311.5" stroke="#000" stroke-width="1.6"/>
<line x1="1308.5" y1="1307" x2="1308.5" y2="1311.5" stroke="#000" stroke-width="1.6"/>
<line x1="1312.5" y1="1307" x2="1312.5" y2="1311.5" stroke="#000" stroke-width="1.6"/>
<line x1="1315.9" y1="1307" x2="1315.9" y2="1311.5" stroke="#000" stroke-width="1.6"/>
<line x1="1318.9" y1="1307" x2="1318.9" y2="1311.5" stroke="#000" stroke-width="1.6"/>
<line x1="1321.6" y1="1307" x2="1321.6" y2="1315" stroke="#000" stroke-width="2.2"/>
<line x1="1339.3" y1="1307" x2="1339.3" y2="1311.5" stroke="#000" stroke-width="1.6"/>
<line x1="1349.7" y1="1307" x2="1349.7" y2="1311.5" stroke="#000" stroke-width="1.6"/>
<line x1="1357.1" y1="1307" x2="1357.1" y2="1311.5" stroke="#000" stroke-width="1.6"/>
<line x1="1362.8" y1="1307" x2="1362.8" y2="1311.5" stroke="#000" stroke-width="1.6"/>
<line x1="1367.4" y1="1307" x2="1367.4" y2="1311.5" stroke="#000" stroke-width="1.6"/>
<line x1="1371.4" y1="1307" x2="1371.4" y2="1311.5" stroke="#000" stroke-width="1.6"/>
<line x1="1374.8" y1="1307" x2="1374.8" y2="1311.5" stroke="#000" stroke-width="1.6"/>
<line x1="1377.8" y1="1307" x2="1377.8" y2="1311.5" stroke="#000" stroke-width="1.6"/>
<line x1="1380.5" y1="1307" x2="1380.5" y2="1315" stroke="#000" stroke-width="2.2"/>
<line x1="1398.2" y1="1307" x2="1398.2" y2="1311.5" stroke="#000" stroke-width="1.6"/>
<line x1="1408.6" y1="1307" x2="1408.6" y2="1311.5" stroke="#000" stroke-width="1.6"/>
<line x1="1416.0" y1="1307" x2="1416.0" y2="1311.5" stroke="#000" stroke-width="1.6"/>
<line x1="1421.7" y1="1307" x2="1421.7" y2="1311.5" stroke="#000" stroke-width="1.6"/>
<line x1="1426.3" y1="1307" x2="1426.3" y2="1311.5" stroke="#000" stroke-width="1.6"/>
<line x1="1430.3" y1="1307" x2="1430.3" y2="1311.5" stroke="#000" stroke-width="1.6"/>
<line x1="1433.7" y1="1307" x2="1433.7" y2="1311.5" stroke="#000" stroke-width="1.6"/>
<line x1="1436.7" y1="1307" x2="1436.7" y2="1311.5" stroke="#000" stroke-width="1.6"/>
<line x1="1439.4" y1="1307" x2="1439.4" y2="1315" stroke="#000" stroke-width="2.2"/>
<text x="1061.7" y="1334.5" font-size="14" font-weight="bold" textLength="47.3" lengthAdjust="spacingAndGlyphs">0.0001</text>
<text x="1124.9" y="1334.5" font-size="14" font-weight="bold" textLength="37.9" lengthAdjust="spacingAndGlyphs">0.001</text>
<text x="1188" y="1334.5" font-size="14" font-weight="bold" textLength="30.0" lengthAdjust="spacingAndGlyphs">0.01</text>
<text x="1251.3" y="1334.5" font-size="14" font-weight="bold" textLength="20.6" lengthAdjust="spacingAndGlyphs">0.1</text>
<text x="1318.6" y="1334.5" font-size="14" font-weight="bold" textLength="5.4" lengthAdjust="spacingAndGlyphs">1</text>
<text x="1371.4" y="1334.5" font-size="14" font-weight="bold" textLength="17.4" lengthAdjust="spacingAndGlyphs">10</text>
<text x="1425" y="1334.5" font-size="14" font-weight="bold" textLength="25.4" lengthAdjust="spacingAndGlyphs">100</text>
<text x="1197.6" y="1371" font-size="15" font-weight="bold" textLength="129.6" lengthAdjust="spacingAndGlyphs">[Compound] µM</text>
<text transform="translate(994.5,1212.8) rotate(-90)" font-size="15" font-weight="bold" textLength="118.5" lengthAdjust="spacingAndGlyphs">ATF4-luc (RLU)</text>
<polyline points="1137.5,1298.8 1156.5,1298.8 1173.9,1295.6 1191.3,1219.8 1208.6,1126.6 1226.7,1230.9 1244.4,1287.1 1262.4,1303.5 1279.8,1306.7" fill="none" stroke="#8c8c8c" stroke-width="2"/>
<line x1="1208.6" y1="1117" x2="1208.6" y2="1140" stroke="#8c8c8c" stroke-width="2"/><line x1="1204.6" y1="1117" x2="1212.6" y2="1117" stroke="#8c8c8c" stroke-width="2"/><line x1="1204.6" y1="1140" x2="1212.6" y2="1140" stroke="#8c8c8c" stroke-width="2"/>
<line x1="1191.3" y1="1214" x2="1191.3" y2="1226" stroke="#8c8c8c" stroke-width="2"/><line x1="1187.3" y1="1214" x2="1195.3" y2="1214" stroke="#8c8c8c" stroke-width="2"/><line x1="1187.3" y1="1226" x2="1195.3" y2="1226" stroke="#8c8c8c" stroke-width="2"/>
<circle cx="1137.5" cy="1298.8" r="4.6" fill="#8c8c8c"/>
<circle cx="1156.5" cy="1298.8" r="4.6" fill="#8c8c8c"/>
<circle cx="1173.9" cy="1295.6" r="4.6" fill="#8c8c8c"/>
<circle cx="1191.3" cy="1219.8" r="4.6" fill="#8c8c8c"/>
<circle cx="1208.6" cy="1126.6" r="4.6" fill="#8c8c8c"/>
<circle cx="1226.7" cy="1230.9" r="4.6" fill="#8c8c8c"/>
<circle cx="1244.4" cy="1287.1" r="4.6" fill="#8c8c8c"/>
<circle cx="1262.4" cy="1303.5" r="4.6" fill="#8c8c8c"/>
<circle cx="1279.8" cy="1306.7" r="4.6" fill="#8c8c8c"/>
<polyline points="1350.9,1297.0 1368.3,1298.0 1385.6,1298.0 1403.6,1298.0 1421.3,1297.5 1439.4,1297.5" fill="none" stroke="#22c022" stroke-width="1.8"/>
<circle cx="1350.9" cy="1297.0" r="2.6" fill="#22c022"/>
<circle cx="1368.3" cy="1298.0" r="2.6" fill="#22c022"/>
<circle cx="1385.6" cy="1298.0" r="2.6" fill="#22c022"/>
<circle cx="1403.6" cy="1298.0" r="2.6" fill="#22c022"/>
<circle cx="1421.3" cy="1297.5" r="2.6" fill="#22c022"/>
<circle cx="1439.4" cy="1297.5" r="2.6" fill="#22c022"/>
<polyline points="1350.9,1298.2 1368.3,1299.8 1385.6,1298.8 1403.6,1298.8 1421.3,1209.7 1439.4,1228.6" fill="none" stroke="#1f3cff" stroke-width="1.8"/>
<line x1="1421.3" y1="1193.9" x2="1421.3" y2="1225.5" stroke="#1f3cff" stroke-width="2"/><line x1="1417.3" y1="1193.9" x2="1425.3" y2="1193.9" stroke="#1f3cff" stroke-width="2"/><line x1="1417.3" y1="1225.5" x2="1425.3" y2="1225.5" stroke="#1f3cff" stroke-width="2"/>
<line x1="1439.4" y1="1219.8" x2="1439.4" y2="1236.5" stroke="#1f3cff" stroke-width="2"/><line x1="1435.4" y1="1219.8" x2="1443.4" y2="1219.8" stroke="#1f3cff" stroke-width="2"/><line x1="1435.4" y1="1236.5" x2="1443.4" y2="1236.5" stroke="#1f3cff" stroke-width="2"/>
<path d="M1350.9,1294.7 L1354.2,1300.5 L1347.6000000000001,1300.5 Z" fill="#1f3cff"/>
<path d="M1368.3,1296.3 L1371.6,1302.1 L1365.0,1302.1 Z" fill="#1f3cff"/>
<path d="M1385.6,1295.3 L1388.8999999999999,1301.1 L1382.3,1301.1 Z" fill="#1f3cff"/>
<path d="M1403.6,1295.3 L1406.8999999999999,1301.1 L1400.3,1301.1 Z" fill="#1f3cff"/>
<path d="M1421.3,1206.2 L1424.6,1212.0 L1418.0,1212.0 Z" fill="#1f3cff"/>
<path d="M1439.4,1225.1 L1442.7,1230.8999999999999 L1436.1000000000001,1230.8999999999999 Z" fill="#1f3cff"/>
<polyline points="1297.1,1298.2 1315.2,1297.5 1332.9,1285.5 1350.9,1230.9 1368.3,1020 1385.6,1169.2 1403.6,1201.8 1421.3,1251.4 1439.4,1290.3" fill="none" stroke="#ff2a1a" stroke-width="1.8"/>
<line x1="1368.3" y1="1012" x2="1368.3" y2="1028" stroke="#ff2a1a" stroke-width="2"/><line x1="1364.3" y1="1012" x2="1372.3" y2="1012" stroke="#ff2a1a" stroke-width="2"/><line x1="1364.3" y1="1028" x2="1372.3" y2="1028" stroke="#ff2a1a" stroke-width="2"/>
<rect x="1293.5" y="1294.6000000000001" width="7.2" height="7.2" fill="#ff2a1a"/>
<rect x="1311.6000000000001" y="1293.9" width="7.2" height="7.2" fill="#ff2a1a"/>
<rect x="1329.3000000000002" y="1281.9" width="7.2" height="7.2" fill="#ff2a1a"/>
<rect x="1347.3000000000002" y="1227.3000000000002" width="7.2" height="7.2" fill="#ff2a1a"/>
<rect x="1364.7" y="1016.4" width="7.2" height="7.2" fill="#ff2a1a"/>
<rect x="1382.0" y="1165.6000000000001" width="7.2" height="7.2" fill="#ff2a1a"/>
<rect x="1400.0" y="1198.2" width="7.2" height="7.2" fill="#ff2a1a"/>
<rect x="1417.7" y="1247.8000000000002" width="7.2" height="7.2" fill="#ff2a1a"/>
<rect x="1435.8000000000002" y="1286.7" width="7.2" height="7.2" fill="#ff2a1a"/>
<polyline points="1297.1,1298.2 1315.2,1297.5 1332.9,1298.8 1350.9,1287.1 1368.3,1146.5 1385.6,1136 1403.6,1219.8 1421.3,1241.3 1439.4,1291.2" fill="none" stroke="#000" stroke-width="1.8"/>
<circle cx="1297.1" cy="1298.2" r="3.6" fill="#000"/>
<circle cx="1315.2" cy="1297.5" r="3.6" fill="#000"/>
<circle cx="1332.9" cy="1298.8" r="3.6" fill="#000"/>
<circle cx="1350.9" cy="1287.1" r="3.6" fill="#000"/>
<circle cx="1368.3" cy="1146.5" r="3.6" fill="#000"/>
<circle cx="1385.6" cy="1136" r="3.6" fill="#000"/>
<circle cx="1403.6" cy="1219.8" r="3.6" fill="#000"/>
<circle cx="1421.3" cy="1241.3" r="3.6" fill="#000"/>
<circle cx="1439.4" cy="1291.2" r="3.6" fill="#000"/>
<circle cx="1186.7" cy="1080" r="3.3" fill="#8c8c8c"/><circle cx="1197.1" cy="1080" r="3.3" fill="#8c8c8c"/><circle cx="1207.6" cy="1080" r="3.3" fill="#8c8c8c"/><circle cx="1218.0" cy="1080" r="3.3" fill="#8c8c8c"/>
<circle cx="1148.1" cy="1200.2" r="3.3" fill="#8c8c8c"/><circle cx="1158.2" cy="1200.2" r="3.3" fill="#8c8c8c"/><circle cx="1168.4" cy="1200.2" r="3.3" fill="#8c8c8c"/><circle cx="1178.5" cy="1200.2" r="3.3" fill="#8c8c8c"/>
<circle cx="1238.5" cy="1205.9" r="3.1" fill="#8c8c8c"/>
<circle cx="1353.5" cy="976.4" r="3.3" fill="#ff2a1a"/><circle cx="1364.0" cy="976.4" r="3.3" fill="#ff2a1a"/><circle cx="1374.4" cy="976.4" r="3.3" fill="#ff2a1a"/><circle cx="1384.9" cy="976.4" r="3.3" fill="#ff2a1a"/>
<circle cx="1317.8" cy="1126" r="3.3" fill="#000"/><circle cx="1328.3" cy="1126" r="3.3" fill="#000"/><circle cx="1338.7" cy="1126" r="3.3" fill="#000"/><circle cx="1349.2" cy="1126" r="3.3" fill="#000"/>
<circle cx="1401.6" cy="1115.5" r="3.3" fill="#000"/><circle cx="1412.0" cy="1115.5" r="3.3" fill="#000"/><circle cx="1422.5" cy="1115.5" r="3.3" fill="#000"/><circle cx="1432.9" cy="1115.5" r="3.3" fill="#000"/>
<circle cx="1401.6" cy="1148.7" r="3.3" fill="#ff2a1a"/><circle cx="1412.0" cy="1148.7" r="3.3" fill="#ff2a1a"/><circle cx="1422.5" cy="1148.7" r="3.3" fill="#ff2a1a"/><circle cx="1432.9" cy="1148.7" r="3.3" fill="#ff2a1a"/>
<circle cx="1303.6" cy="1212.2" r="3.3" fill="#ff2a1a"/><circle cx="1314.3" cy="1212.2" r="3.3" fill="#ff2a1a"/><circle cx="1324.9" cy="1212.2" r="3.3" fill="#ff2a1a"/><circle cx="1335.6" cy="1212.2" r="3.3" fill="#ff2a1a"/>
<circle cx="1461.3" cy="1206" r="3.5" fill="#1f3cff"/><circle cx="1471.5" cy="1206" r="3.5" fill="#1f3cff"/><circle cx="1481.6" cy="1206" r="3.5" fill="#1f3cff"/><circle cx="1491.8" cy="1206" r="3.5" fill="#1f3cff"/>
<line x1="1461.5" y1="1019.7" x2="1485" y2="1019.7" stroke="#000" stroke-width="2"/>
<circle cx="1473.7" cy="1019.7" r="3.3" fill="#000"/>
<text x="1498" y="1025.5" font-size="15.5" fill="#000" stroke="#000" stroke-width="0.35" textLength="71.3" lengthAdjust="spacingAndGlyphs">APX2009</text>
<line x1="1461.5" y1="1048.3" x2="1485" y2="1048.3" stroke="#ff2a1a" stroke-width="2"/>
<rect x="1470.4" y="1045.0" width="6.6" height="6.6" fill="#ff2a1a"/>
<text x="1498" y="1054.1" font-size="15.5" fill="#ff2a1a" stroke="#ff2a1a" stroke-width="0.35" textLength="71.3" lengthAdjust="spacingAndGlyphs">APX2014</text>
<line x1="1461.5" y1="1076.4" x2="1485" y2="1076.4" stroke="#1f3cff" stroke-width="2"/>
<path d="M1473.7,1073.4 L1476.6,1078.4 L1470.8,1078.4 Z" fill="#1f3cff"/>
<text x="1498" y="1082.2" font-size="15.5" fill="#1f3cff" stroke="#1f3cff" stroke-width="0.35" textLength="71.3" lengthAdjust="spacingAndGlyphs">APX3330</text>
<line x1="1461.5" y1="1104.6" x2="1485" y2="1104.6" stroke="#22c022" stroke-width="2"/>
<circle cx="1473.7" cy="1104.6" r="2.5" fill="#22c022"/>
<text x="1498" y="1110.4" font-size="15.5" fill="#22c022" stroke="#22c022" stroke-width="0.35" textLength="58.0" lengthAdjust="spacingAndGlyphs">RN7-58</text>
<line x1="1461.5" y1="1133" x2="1485" y2="1133" stroke="#999" stroke-width="2"/>
<circle cx="1473.7" cy="1133" r="4" fill="#8c8c8c"/>
<text x="1498" y="1138.8" font-size="15.5" fill="#a6a6a6" stroke="#a6a6a6" stroke-width="0.35" textLength="235.2" lengthAdjust="spacingAndGlyphs">Halofuginone (Positive Control)</text>
<line x1="1461.5" y1="1162" x2="1485" y2="1162" stroke="#555" stroke-width="1.3" stroke-dasharray="2 1.2"/>
<text x="1498" y="1167.8" font-size="15.5" fill="#000" stroke="#000" stroke-width="0.35" textLength="195.0" lengthAdjust="spacingAndGlyphs">DMSO (Negative Control)</text>
</svg>
</body></html>
